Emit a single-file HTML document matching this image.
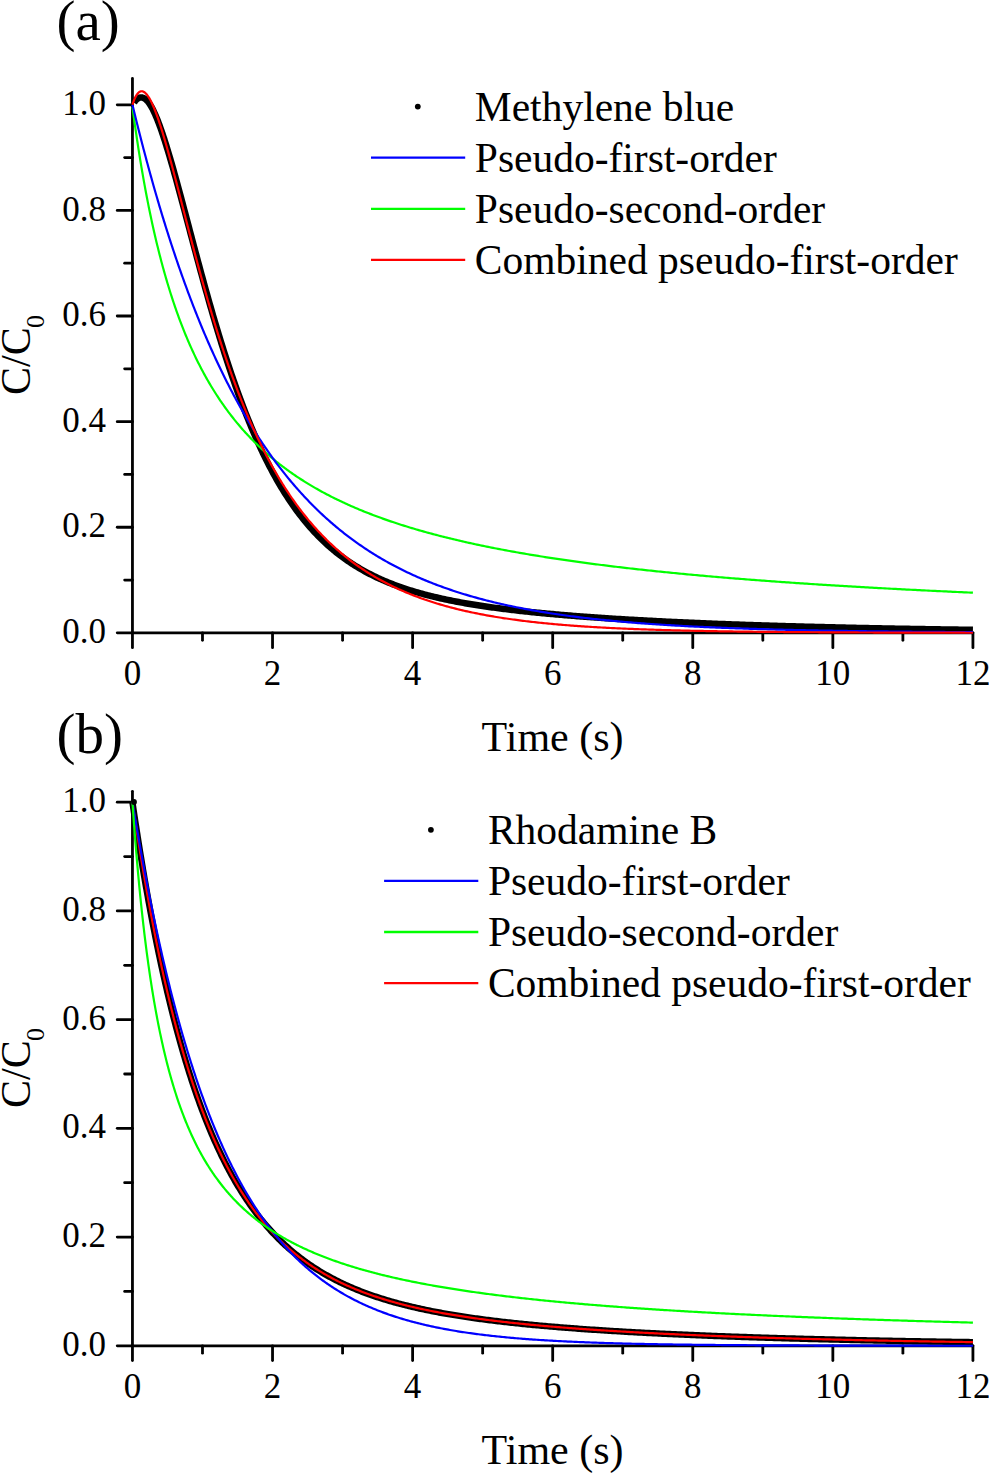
<!DOCTYPE html>
<html><head><meta charset="utf-8"><style>
html,body{margin:0;padding:0;background:#fff;}
svg{display:block;}
text{font-family:"Liberation Serif",serif;}
</style></head><body>
<svg width="989" height="1473" viewBox="0 0 989 1473">
<rect width="989" height="1473" fill="#fff"/>
<g stroke="#000" stroke-width="2.8" stroke-linecap="round">
<line x1="132.45" y1="78.40" x2="132.45" y2="632.85" />
<line x1="117.24999999999999" y1="632.85" x2="972.93" y2="632.85" />
<line x1="124.65" y1="580.05" x2="132.45" y2="580.05" />
<line x1="117.25" y1="527.24" x2="132.45" y2="527.24" />
<line x1="124.65" y1="474.44" x2="132.45" y2="474.44" />
<line x1="117.25" y1="421.63" x2="132.45" y2="421.63" />
<line x1="124.65" y1="368.83" x2="132.45" y2="368.83" />
<line x1="117.25" y1="316.02" x2="132.45" y2="316.02" />
<line x1="124.65" y1="263.22" x2="132.45" y2="263.22" />
<line x1="117.25" y1="210.41" x2="132.45" y2="210.41" />
<line x1="124.65" y1="157.61" x2="132.45" y2="157.61" />
<line x1="117.25" y1="104.80" x2="132.45" y2="104.80" />
<line x1="132.45" y1="632.85" x2="132.45" y2="647.65" />
<line x1="202.49" y1="632.85" x2="202.49" y2="640.25" />
<line x1="272.53" y1="632.85" x2="272.53" y2="647.65" />
<line x1="342.57" y1="632.85" x2="342.57" y2="640.25" />
<line x1="412.61" y1="632.85" x2="412.61" y2="647.65" />
<line x1="482.65" y1="632.85" x2="482.65" y2="640.25" />
<line x1="552.69" y1="632.85" x2="552.69" y2="647.65" />
<line x1="622.73" y1="632.85" x2="622.73" y2="640.25" />
<line x1="692.77" y1="632.85" x2="692.77" y2="647.65" />
<line x1="762.81" y1="632.85" x2="762.81" y2="640.25" />
<line x1="832.85" y1="632.85" x2="832.85" y2="647.65" />
<line x1="902.89" y1="632.85" x2="902.89" y2="640.25" />
<line x1="972.93" y1="632.85" x2="972.93" y2="647.65" />
</g>
<g fill="none" stroke-linejoin="round">
<path d="M133.99,102.72 L134.02,102.67 L134.08,102.57 L134.17,102.44 L134.27,102.29 L134.39,102.11 L134.52,101.91 L134.67,101.70 L134.83,101.47 L135.01,101.24 L135.19,100.99 L135.39,100.75 L135.60,100.50 L135.82,100.24 L136.05,99.99 L136.29,99.75 L136.54,99.50 L136.80,99.27 L137.07,99.04 L137.35,98.82 L137.63,98.61 L137.93,98.42 L138.23,98.23 L138.55,98.07 L138.87,97.92 L139.20,97.79 L139.53,97.68 L139.88,97.58 L140.23,97.51 L140.59,97.47 L140.96,97.45 L141.34,97.45 L141.72,97.48 L142.11,97.54 L142.51,97.63 L142.91,97.75 L143.32,97.90 L143.74,98.08 L144.17,98.30 L144.60,98.55 L145.04,98.85 L145.48,99.18 L145.93,99.55 L146.39,99.96 L146.85,100.42 L147.33,100.92 L147.80,101.46 L148.29,102.06 L148.78,102.70 L149.27,103.38 L149.77,104.12 L150.28,104.91 L150.80,105.74 L151.32,106.63 L151.84,107.57 L152.37,108.56 L152.91,109.60 L153.46,110.70 L154.00,111.84 L154.56,113.04 L155.12,114.29 L155.69,115.58 L156.26,116.93 L156.84,118.33 L157.42,119.78 L158.01,121.28 L158.60,122.82 L159.20,124.42 L159.81,126.06 L160.42,127.76 L161.03,129.49 L161.65,131.28 L162.28,133.11 L162.91,134.99 L163.55,136.91 L164.19,138.87 L164.83,140.88 L165.49,142.94 L166.14,145.03 L166.80,147.17 L167.47,149.35 L168.14,151.57 L168.82,153.83 L169.50,156.13 L170.19,158.47 L170.88,160.85 L171.58,163.26 L172.28,165.71 L172.99,168.20 L173.70,170.72 L174.41,173.28 L175.14,175.87 L175.86,178.49 L176.59,181.14 L177.33,183.83 L178.07,186.54 L178.81,189.29 L179.56,192.06 L180.32,194.86 L181.07,197.68 L181.84,200.53 L182.60,203.41 L183.38,206.31 L184.15,209.23 L184.94,212.17 L185.72,215.14 L186.51,218.13 L187.31,221.13 L188.11,224.15 L188.91,227.19 L189.72,230.25 L190.53,233.32 L191.35,236.41 L192.17,239.51 L193.00,242.62 L193.83,245.75 L194.66,248.88 L195.50,252.03 L196.34,255.19 L197.19,258.35 L198.04,261.52 L198.90,264.70 L199.76,267.88 L200.62,271.07 L201.49,274.27 L202.37,277.46 L203.24,280.66 L204.13,283.86 L205.01,287.06 L205.90,290.27 L206.80,293.47 L207.69,296.67 L208.60,299.86 L209.50,303.06 L210.41,306.25 L211.33,309.43 L212.25,312.61 L213.17,315.79 L214.09,318.96 L215.03,322.12 L215.96,325.27 L216.90,328.42 L217.84,331.55 L218.79,334.68 L219.74,337.80 L220.69,340.90 L221.65,344.00 L222.62,347.08 L223.58,350.15 L224.55,353.20 L225.53,356.25 L226.51,359.27 L227.49,362.29 L228.47,365.29 L229.46,368.27 L230.46,371.24 L231.46,374.19 L232.46,377.12 L233.46,380.04 L234.47,382.94 L235.48,385.82 L236.50,388.68 L237.52,391.53 L238.55,394.35 L239.57,397.16 L240.61,399.95 L241.64,402.71 L242.68,405.46 L243.73,408.18 L244.77,410.89 L245.82,413.57 L246.88,416.23 L247.94,418.87 L249.00,421.49 L250.06,424.09 L251.13,426.66 L252.20,429.22 L253.28,431.75 L254.36,434.26 L255.45,436.74 L256.53,439.20 L257.62,441.64 L258.72,444.06 L259.82,446.45 L260.92,448.82 L262.02,451.17 L263.13,453.49 L264.25,455.79 L265.36,458.07 L266.48,460.32 L267.61,462.55 L268.73,464.75 L269.86,466.94 L271.00,469.10 L272.13,471.23 L273.28,473.34 L274.42,475.43 L275.57,477.49 L276.72,479.54 L277.87,481.55 L279.03,483.55 L280.20,485.52 L281.36,487.47 L282.53,489.39 L283.70,491.29 L284.88,493.17 L286.06,495.03 L287.24,496.86 L288.43,498.67 L289.62,500.46 L290.81,502.22 L292.01,503.97 L293.21,505.69 L294.41,507.39 L295.62,509.06 L296.83,510.72 L298.04,512.35 L299.26,513.96 L300.48,515.55 L301.70,517.12 L302.93,518.67 L304.16,520.20 L305.39,521.70 L306.63,523.19 L307.87,524.66 L309.11,526.10 L310.36,527.53 L311.61,528.93 L312.86,530.32 L314.12,531.68 L315.38,533.03 L316.64,534.36 L317.91,535.67 L319.18,536.96 L320.45,538.23 L321.73,539.48 L323.01,540.72 L324.29,541.93 L325.58,543.13 L326.87,544.32 L328.16,545.48 L329.46,546.63 L330.76,547.76 L332.06,548.87 L333.37,549.97 L334.68,551.05 L335.99,552.11 L337.30,553.16 L338.62,554.19 L339.94,555.21 L341.27,556.21 L342.60,557.19 L343.93,558.17 L345.26,559.12 L346.60,560.06 L347.94,560.99 L349.28,561.90 L350.63,562.80 L351.98,563.69 L353.34,564.56 L354.69,565.41 L356.05,566.26 L357.41,567.09 L358.78,567.91 L360.15,568.71 L361.52,569.51 L362.90,570.29 L364.28,571.06 L365.66,571.81 L367.04,572.56 L368.43,573.29 L369.82,574.01 L371.21,574.72 L372.61,575.42 L374.01,576.11 L375.41,576.79 L376.82,577.46 L378.23,578.11 L379.64,578.76 L381.06,579.39 L382.48,580.02 L383.90,580.64 L385.32,581.24 L386.75,581.84 L388.18,582.43 L389.61,583.01 L391.05,583.58 L392.49,584.14 L393.93,584.69 L395.38,585.24 L396.83,585.77 L398.28,586.30 L399.73,586.82 L401.19,587.33 L402.65,587.83 L404.11,588.33 L405.58,588.82 L407.05,589.30 L408.52,589.77 L410.00,590.24 L411.48,590.70 L412.96,591.15 L414.44,591.60 L415.93,592.04 L417.42,592.47 L418.91,592.89 L420.41,593.31 L421.91,593.73 L423.41,594.13 L424.92,594.54 L426.42,594.93 L427.93,595.32 L429.45,595.70 L430.96,596.08 L432.48,596.46 L434.01,596.82 L435.53,597.19 L437.06,597.54 L438.59,597.89 L440.13,598.24 L441.66,598.58 L443.20,598.92 L444.75,599.25 L446.29,599.58 L447.84,599.91 L449.39,600.23 L450.94,600.54 L452.50,600.85 L454.06,601.16 L455.62,601.46 L457.19,601.76 L458.76,602.05 L460.33,602.34 L461.90,602.63 L463.48,602.91 L465.06,603.19 L466.64,603.46 L468.23,603.74 L469.82,604.00 L471.41,604.27 L473.00,604.53 L474.60,604.79 L476.20,605.04 L477.80,605.30 L479.41,605.55 L481.01,605.79 L482.62,606.03 L484.24,606.27 L485.85,606.51 L487.47,606.74 L489.10,606.98 L490.72,607.20 L492.35,607.43 L493.98,607.65 L495.61,607.87 L497.25,608.09 L498.89,608.31 L500.53,608.52 L502.17,608.73 L503.82,608.94 L505.47,609.15 L507.12,609.35 L508.78,609.55 L510.43,609.75 L512.09,609.95 L513.76,610.14 L515.42,610.33 L517.09,610.53 L518.76,610.71 L520.44,610.90 L522.11,611.09 L523.79,611.27 L525.48,611.45 L527.16,611.63 L528.85,611.81 L530.54,611.98 L532.23,612.16 L533.93,612.33 L535.63,612.50 L537.33,612.67 L539.03,612.83 L540.74,613.00 L542.45,613.16 L544.16,613.33 L545.88,613.49 L547.59,613.65 L549.32,613.80 L551.04,613.96 L552.76,614.11 L554.49,614.27 L556.22,614.42 L557.96,614.57 L559.69,614.72 L561.43,614.87 L563.17,615.01 L564.92,615.16 L566.66,615.30 L568.41,615.45 L570.17,615.59 L571.92,615.73 L573.68,615.87 L575.44,616.00 L577.20,616.14 L578.97,616.27 L580.73,616.41 L582.50,616.54 L584.28,616.67 L586.05,616.80 L587.83,616.93 L589.61,617.06 L591.40,617.19 L593.18,617.32 L594.97,617.44 L596.76,617.57 L598.56,617.69 L600.35,617.81 L602.15,617.93 L603.96,618.05 L605.76,618.17 L607.57,618.29 L609.38,618.41 L611.19,618.52 L613.00,618.64 L614.82,618.76 L616.64,618.87 L618.46,618.98 L620.29,619.09 L622.12,619.20 L623.95,619.31 L625.78,619.42 L627.62,619.53 L629.45,619.64 L631.29,619.75 L633.14,619.85 L634.98,619.96 L636.83,620.06 L638.68,620.17 L640.54,620.27 L642.39,620.37 L644.25,620.47 L646.11,620.57 L647.97,620.67 L649.84,620.77 L651.71,620.87 L653.58,620.97 L655.45,621.06 L657.33,621.16 L659.21,621.26 L661.09,621.35 L662.97,621.44 L664.86,621.54 L666.75,621.63 L668.64,621.72 L670.53,621.81 L672.43,621.90 L674.33,621.99 L676.23,622.08 L678.13,622.17 L680.04,622.26 L681.95,622.34 L683.86,622.43 L685.77,622.52 L687.69,622.60 L689.61,622.69 L691.53,622.77 L693.46,622.85 L695.38,622.94 L697.31,623.02 L699.24,623.10 L701.18,623.18 L703.11,623.26 L705.05,623.34 L706.99,623.42 L708.93,623.50 L710.88,623.58 L712.83,623.65 L714.78,623.73 L716.73,623.81 L718.69,623.88 L720.65,623.96 L722.61,624.03 L724.57,624.10 L726.54,624.18 L728.51,624.25 L730.48,624.32 L732.45,624.39 L734.43,624.47 L736.40,624.54 L738.38,624.61 L740.37,624.68 L742.35,624.75 L744.34,624.81 L746.33,624.88 L748.32,624.95 L750.32,625.02 L752.31,625.08 L754.31,625.15 L756.32,625.22 L758.32,625.28 L760.33,625.34 L762.34,625.41 L764.35,625.47 L766.36,625.54 L768.38,625.60 L770.40,625.66 L772.42,625.72 L774.45,625.78 L776.47,625.84 L778.50,625.90 L780.53,625.96 L782.57,626.02 L784.60,626.08 L786.64,626.14 L788.68,626.20 L790.72,626.26 L792.77,626.31 L794.82,626.37 L796.87,626.43 L798.92,626.48 L800.97,626.54 L803.03,626.59 L805.09,626.65 L807.15,626.70 L809.22,626.76 L811.29,626.81 L813.35,626.86 L815.43,626.92 L817.50,626.97 L819.58,627.02 L821.66,627.07 L823.74,627.12 L825.82,627.17 L827.91,627.22 L829.99,627.27 L832.08,627.32 L834.18,627.37 L836.27,627.42 L838.37,627.47 L840.47,627.52 L842.57,627.56 L844.68,627.61 L846.78,627.66 L848.89,627.70 L851.00,627.75 L853.12,627.79 L855.23,627.84 L857.35,627.89 L859.47,627.93 L861.60,627.97 L863.72,628.02 L865.85,628.06 L867.98,628.10 L870.11,628.15 L872.25,628.19 L874.39,628.23 L876.52,628.27 L878.67,628.32 L880.81,628.36 L882.96,628.40 L885.11,628.44 L887.26,628.48 L889.41,628.52 L891.57,628.56 L893.72,628.60 L895.88,628.64 L898.05,628.67 L900.21,628.71 L902.38,628.75 L904.55,628.79 L906.72,628.82 L908.89,628.86 L911.07,628.90 L913.25,628.94 L915.43,628.97 L917.61,629.01 L919.80,629.04 L921.99,629.08 L924.18,629.11 L926.37,629.15 L928.56,629.18 L930.76,629.22 L932.96,629.25 L935.16,629.28 L937.36,629.32 L939.57,629.35 L941.78,629.38 L943.99,629.41 L946.20,629.45 L948.42,629.48 L950.63,629.51 L952.85,629.54 L955.07,629.57 L957.30,629.60 L959.53,629.63 L961.75,629.66 L963.98,629.69 L966.22,629.72 L968.45,629.75 L970.69,629.78 L972.93,629.81" stroke="#000" stroke-width="6.5" transform="translate(0,0)"/>
<path d="M132.45,106.90 L132.48,107.13 L132.54,107.60 L132.63,108.23 L132.73,109.00 L132.85,109.89 L132.98,110.90 L133.13,112.00 L133.29,113.20 L133.47,114.49 L133.65,115.86 L133.85,117.31 L134.06,118.83 L134.28,120.41 L134.51,122.07 L134.75,123.78 L135.00,125.55 L135.26,127.38 L135.53,129.25 L135.81,131.18 L136.10,133.15 L136.40,135.17 L136.70,137.23 L137.01,139.32 L137.34,141.46 L137.67,143.63 L138.00,145.83 L138.35,148.06 L138.70,150.33 L139.06,152.62 L139.43,154.93 L139.81,157.27 L140.19,159.63 L140.58,162.01 L140.98,164.42 L141.39,166.84 L141.80,169.27 L142.22,171.72 L142.64,174.19 L143.08,176.66 L143.51,179.15 L143.96,181.65 L144.41,184.15 L144.87,186.67 L145.34,189.19 L145.81,191.72 L146.29,194.25 L146.77,196.78 L147.26,199.32 L147.76,201.86 L148.26,204.40 L148.77,206.94 L149.29,209.48 L149.81,212.02 L150.33,214.56 L150.87,217.10 L151.41,219.63 L151.95,222.16 L152.50,224.68 L153.06,227.20 L153.62,229.71 L154.19,232.22 L154.76,234.72 L155.34,237.22 L155.92,239.70 L156.51,242.18 L157.11,244.65 L157.71,247.11 L158.31,249.56 L158.92,252.00 L159.54,254.43 L160.16,256.85 L160.79,259.26 L161.42,261.66 L162.06,264.05 L162.70,266.43 L163.35,268.79 L164.00,271.15 L164.66,273.49 L165.32,275.82 L165.99,278.13 L166.67,280.43 L167.34,282.72 L168.03,285.00 L168.72,287.27 L169.41,289.52 L170.11,291.75 L170.81,293.98 L171.52,296.19 L172.23,298.38 L172.95,300.57 L173.67,302.73 L174.40,304.89 L175.13,307.03 L175.87,309.15 L176.61,311.27 L177.35,313.36 L178.10,315.45 L178.86,317.51 L179.62,319.57 L180.38,321.61 L181.15,323.63 L181.93,325.65 L182.71,327.64 L183.49,329.63 L184.28,331.59 L185.07,333.55 L185.86,335.49 L186.67,337.41 L187.47,339.32 L188.28,341.22 L189.09,343.10 L189.91,344.97 L190.74,346.83 L191.56,348.67 L192.40,350.49 L193.23,352.31 L194.07,354.10 L194.92,355.89 L195.77,357.66 L196.62,359.42 L197.48,361.16 L198.34,362.89 L199.21,364.61 L200.08,366.31 L200.95,368.00 L201.83,369.68 L202.71,371.34 L203.60,372.99 L204.49,374.63 L205.39,376.25 L206.29,377.86 L207.19,379.46 L208.10,381.04 L209.01,382.62 L209.93,384.18 L210.85,385.72 L211.77,387.26 L212.70,388.78 L213.63,390.29 L214.57,391.79 L215.51,393.28 L216.46,394.75 L217.40,396.21 L218.36,397.66 L219.31,399.10 L220.27,400.53 L221.24,401.95 L222.21,403.35 L223.18,404.74 L224.15,406.12 L225.13,407.49 L226.12,408.85 L227.11,410.20 L228.10,411.54 L229.09,412.87 L230.09,414.18 L231.10,415.49 L232.10,416.78 L233.12,418.06 L234.13,419.34 L235.15,420.60 L236.17,421.85 L237.20,423.10 L238.23,424.33 L239.26,425.55 L240.30,426.77 L241.34,427.97 L242.39,429.16 L243.43,430.35 L244.49,431.52 L245.54,432.69 L246.60,433.84 L247.67,434.99 L248.73,436.12 L249.81,437.25 L250.88,438.37 L251.96,439.48 L253.04,440.58 L254.13,441.67 L255.22,442.76 L256.31,443.83 L257.41,444.90 L258.51,445.95 L259.61,447.00 L260.72,448.04 L261.83,449.08 L262.94,450.10 L264.06,451.12 L265.18,452.13 L266.31,453.13 L267.44,454.12 L268.57,455.10 L269.71,456.08 L270.85,457.05 L271.99,458.01 L273.14,458.96 L274.29,459.91 L275.44,460.85 L276.60,461.78 L277.76,462.71 L278.92,463.62 L280.09,464.53 L281.26,465.44 L282.44,466.33 L283.61,467.22 L284.80,468.10 L285.98,468.98 L287.17,469.85 L288.36,470.71 L289.56,471.57 L290.76,472.41 L291.96,473.26 L293.16,474.09 L294.37,474.92 L295.58,475.74 L296.80,476.56 L298.02,477.37 L299.24,478.18 L300.47,478.97 L301.70,479.77 L302.93,480.55 L304.17,481.33 L305.40,482.11 L306.65,482.88 L307.89,483.64 L309.14,484.40 L310.40,485.15 L311.65,485.89 L312.91,486.63 L314.17,487.37 L315.44,488.10 L316.71,488.82 L317.98,489.54 L319.26,490.25 L320.53,490.96 L321.82,491.67 L323.10,492.36 L324.39,493.06 L325.68,493.74 L326.98,494.43 L328.28,495.10 L329.58,495.78 L330.88,496.44 L332.19,497.11 L333.50,497.76 L334.82,498.42 L336.14,499.07 L337.46,499.71 L338.78,500.35 L340.11,500.98 L341.44,501.61 L342.77,502.24 L344.11,502.86 L345.45,503.48 L346.79,504.09 L348.14,504.70 L349.49,505.30 L350.84,505.90 L352.20,506.50 L353.56,507.09 L354.92,507.67 L356.28,508.26 L357.65,508.83 L359.02,509.41 L360.40,509.98 L361.78,510.55 L363.16,511.11 L364.54,511.67 L365.93,512.22 L367.32,512.77 L368.71,513.32 L370.11,513.86 L371.51,514.40 L372.91,514.94 L374.32,515.47 L375.73,516.00 L377.14,516.53 L378.55,517.05 L379.97,517.57 L381.39,518.08 L382.82,518.59 L384.24,519.10 L385.67,519.60 L387.11,520.10 L388.54,520.60 L389.98,521.09 L391.42,521.59 L392.87,522.07 L394.32,522.56 L395.77,523.04 L397.22,523.52 L398.68,523.99 L400.14,524.46 L401.60,524.93 L403.07,525.40 L404.54,525.86 L406.01,526.32 L407.49,526.77 L408.96,527.23 L410.45,527.68 L411.93,528.12 L413.42,528.57 L414.91,529.01 L416.40,529.45 L417.90,529.88 L419.40,530.32 L420.90,530.75 L422.40,531.17 L423.91,531.60 L425.42,532.02 L426.93,532.44 L428.45,532.86 L429.97,533.27 L431.49,533.68 L433.02,534.09 L434.55,534.50 L436.08,534.90 L437.61,535.30 L439.15,535.70 L440.69,536.10 L442.23,536.49 L443.77,536.88 L445.32,537.27 L446.87,537.66 L448.43,538.04 L449.99,538.42 L451.55,538.80 L453.11,539.18 L454.67,539.55 L456.24,539.92 L457.81,540.29 L459.39,540.66 L460.97,541.03 L462.54,541.39 L464.13,541.75 L465.71,542.11 L467.30,542.47 L468.89,542.82 L470.49,543.17 L472.08,543.52 L473.68,543.87 L475.29,544.22 L476.89,544.56 L478.50,544.90 L480.11,545.24 L481.72,545.58 L483.34,545.91 L484.96,546.25 L486.58,546.58 L488.21,546.91 L489.83,547.24 L491.47,547.56 L493.10,547.89 L494.73,548.21 L496.37,548.53 L498.01,548.85 L499.66,549.16 L501.31,549.48 L502.96,549.79 L504.61,550.10 L506.26,550.41 L507.92,550.72 L509.58,551.02 L511.25,551.33 L512.91,551.63 L514.58,551.93 L516.25,552.23 L517.93,552.52 L519.61,552.82 L521.29,553.11 L522.97,553.40 L524.66,553.69 L526.34,553.98 L528.03,554.27 L529.73,554.55 L531.42,554.84 L533.12,555.12 L534.83,555.40 L536.53,555.68 L538.24,555.96 L539.95,556.23 L541.66,556.50 L543.37,556.78 L545.09,557.05 L546.81,557.32 L548.54,557.59 L550.26,557.85 L551.99,558.12 L553.72,558.38 L555.46,558.64 L557.19,558.90 L558.93,559.16 L560.68,559.42 L562.42,559.68 L564.17,559.93 L565.92,560.19 L567.67,560.44 L569.43,560.69 L571.18,560.94 L572.94,561.19 L574.71,561.44 L576.47,561.68 L578.24,561.93 L580.01,562.17 L581.79,562.41 L583.56,562.65 L585.34,562.89 L587.12,563.13 L588.91,563.36 L590.70,563.60 L592.49,563.83 L594.28,564.07 L596.07,564.30 L597.87,564.53 L599.67,564.76 L601.47,564.98 L603.28,565.21 L605.09,565.44 L606.90,565.66 L608.71,565.88 L610.52,566.11 L612.34,566.33 L614.16,566.55 L615.99,566.77 L617.81,566.98 L619.64,567.20 L621.47,567.41 L623.31,567.63 L625.14,567.84 L626.98,568.05 L628.82,568.26 L630.67,568.47 L632.51,568.68 L634.36,568.89 L636.21,569.10 L638.07,569.30 L639.93,569.51 L641.78,569.71 L643.65,569.91 L645.51,570.12 L647.38,570.32 L649.25,570.51 L651.12,570.71 L652.99,570.91 L654.87,571.11 L656.75,571.30 L658.63,571.50 L660.52,571.69 L662.40,571.88 L664.29,572.07 L666.19,572.27 L668.08,572.46 L669.98,572.64 L671.88,572.83 L673.78,573.02 L675.69,573.20 L677.59,573.39 L679.50,573.57 L681.42,573.76 L683.33,573.94 L685.25,574.12 L687.17,574.30 L689.09,574.48 L691.01,574.66 L692.94,574.84 L694.87,575.02 L696.80,575.19 L698.74,575.37 L700.68,575.54 L702.62,575.72 L704.56,575.89 L706.50,576.06 L708.45,576.23 L710.40,576.40 L712.35,576.57 L714.31,576.74 L716.26,576.91 L718.22,577.08 L720.18,577.24 L722.15,577.41 L724.12,577.57 L726.09,577.74 L728.06,577.90 L730.03,578.06 L732.01,578.23 L733.99,578.39 L735.97,578.55 L737.95,578.71 L739.94,578.87 L741.93,579.02 L743.92,579.18 L745.91,579.34 L747.91,579.49 L749.91,579.65 L751.91,579.80 L753.91,579.96 L755.92,580.11 L757.93,580.26 L759.94,580.41 L761.95,580.57 L763.97,580.72 L765.98,580.87 L768.01,581.01 L770.03,581.16 L772.05,581.31 L774.08,581.46 L776.11,581.60 L778.14,581.75 L780.18,581.89 L782.22,582.04 L784.26,582.18 L786.30,582.33 L788.34,582.47 L790.39,582.61 L792.44,582.75 L794.49,582.89 L796.54,583.03 L798.60,583.17 L800.66,583.31 L802.72,583.45 L804.78,583.58 L806.85,583.72 L808.92,583.86 L810.99,583.99 L813.06,584.13 L815.14,584.26 L817.21,584.40 L819.30,584.53 L821.38,584.66 L823.46,584.79 L825.55,584.93 L827.64,585.06 L829.73,585.19 L831.83,585.32 L833.92,585.45 L836.02,585.58 L838.12,585.70 L840.23,585.83 L842.33,585.96 L844.44,586.08 L846.55,586.21 L848.66,586.34 L850.78,586.46 L852.90,586.59 L855.02,586.71 L857.14,586.83 L859.27,586.96 L861.39,587.08 L863.52,587.20 L865.65,587.32 L867.79,587.44 L869.92,587.56 L872.06,587.68 L874.20,587.80 L876.35,587.92 L878.49,588.04 L880.64,588.16 L882.79,588.27 L884.94,588.39 L887.10,588.51 L889.26,588.62 L891.42,588.74 L893.58,588.85 L895.74,588.97 L897.91,589.08 L900.08,589.19 L902.25,589.31 L904.42,589.42 L906.60,589.53 L908.78,589.64 L910.96,589.75 L913.14,589.86 L915.32,589.97 L917.51,590.08 L919.70,590.19 L921.89,590.30 L924.09,590.41 L926.28,590.52 L928.48,590.63 L930.68,590.73 L932.89,590.84 L935.09,590.95 L937.30,591.05 L939.51,591.16 L941.72,591.26 L943.94,591.37 L946.15,591.47 L948.37,591.57 L950.59,591.68 L952.82,591.78 L955.04,591.88 L957.27,591.98 L959.50,592.09 L961.73,592.19 L963.97,592.29 L966.21,592.39 L968.44,592.49 L970.69,592.59 L972.93,592.69" stroke="#00ff00" stroke-width="2.2"/>
<path d="M132.45,104.80 L132.48,104.93 L132.54,105.18 L132.63,105.53 L132.73,105.96 L132.85,106.45 L132.98,107.01 L133.13,107.62 L133.29,108.29 L133.47,109.02 L133.65,109.79 L133.85,110.60 L134.06,111.47 L134.28,112.37 L134.51,113.32 L134.75,114.30 L135.00,115.32 L135.26,116.38 L135.53,117.48 L135.81,118.61 L136.10,119.77 L136.40,120.97 L136.70,122.20 L137.01,123.46 L137.34,124.75 L137.67,126.07 L138.00,127.42 L138.35,128.79 L138.70,130.19 L139.06,131.62 L139.43,133.08 L139.81,134.55 L140.19,136.06 L140.58,137.59 L140.98,139.14 L141.39,140.71 L141.80,142.31 L142.22,143.92 L142.64,145.56 L143.08,147.22 L143.51,148.90 L143.96,150.59 L144.41,152.31 L144.87,154.05 L145.34,155.80 L145.81,157.57 L146.29,159.36 L146.77,161.16 L147.26,162.98 L147.76,164.82 L148.26,166.67 L148.77,168.54 L149.29,170.42 L149.81,172.31 L150.33,174.22 L150.87,176.14 L151.41,178.08 L151.95,180.03 L152.50,181.99 L153.06,183.96 L153.62,185.94 L154.19,187.93 L154.76,189.94 L155.34,191.95 L155.92,193.98 L156.51,196.01 L157.11,198.05 L157.71,200.11 L158.31,202.17 L158.92,204.24 L159.54,206.32 L160.16,208.40 L160.79,210.49 L161.42,212.59 L162.06,214.70 L162.70,216.81 L163.35,218.93 L164.00,221.06 L164.66,223.19 L165.32,225.32 L165.99,227.46 L166.67,229.61 L167.34,231.76 L168.03,233.91 L168.72,236.07 L169.41,238.23 L170.11,240.40 L170.81,242.57 L171.52,244.74 L172.23,246.91 L172.95,249.09 L173.67,251.27 L174.40,253.45 L175.13,255.63 L175.87,257.81 L176.61,260.00 L177.35,262.19 L178.10,264.37 L178.86,266.56 L179.62,268.75 L180.38,270.93 L181.15,273.12 L181.93,275.31 L182.71,277.50 L183.49,279.68 L184.28,281.87 L185.07,284.05 L185.86,286.23 L186.67,288.41 L187.47,290.59 L188.28,292.77 L189.09,294.95 L189.91,297.12 L190.74,299.29 L191.56,301.46 L192.40,303.62 L193.23,305.79 L194.07,307.95 L194.92,310.10 L195.77,312.26 L196.62,314.40 L197.48,316.55 L198.34,318.69 L199.21,320.83 L200.08,322.96 L200.95,325.09 L201.83,327.22 L202.71,329.34 L203.60,331.45 L204.49,333.56 L205.39,335.67 L206.29,337.77 L207.19,339.86 L208.10,341.95 L209.01,344.03 L209.93,346.11 L210.85,348.18 L211.77,350.25 L212.70,352.31 L213.63,354.36 L214.57,356.41 L215.51,358.45 L216.46,360.49 L217.40,362.52 L218.36,364.54 L219.31,366.55 L220.27,368.56 L221.24,370.56 L222.21,372.56 L223.18,374.54 L224.15,376.52 L225.13,378.50 L226.12,380.46 L227.11,382.42 L228.10,384.37 L229.09,386.31 L230.09,388.25 L231.10,390.17 L232.10,392.09 L233.12,394.00 L234.13,395.91 L235.15,397.80 L236.17,399.69 L237.20,401.56 L238.23,403.43 L239.26,405.30 L240.30,407.15 L241.34,408.99 L242.39,410.83 L243.43,412.66 L244.49,414.48 L245.54,416.29 L246.60,418.09 L247.67,419.88 L248.73,421.67 L249.81,423.44 L250.88,425.21 L251.96,426.97 L253.04,428.71 L254.13,430.45 L255.22,432.18 L256.31,433.91 L257.41,435.62 L258.51,437.32 L259.61,439.01 L260.72,440.70 L261.83,442.37 L262.94,444.04 L264.06,445.70 L265.18,447.34 L266.31,448.98 L267.44,450.61 L268.57,452.23 L269.71,453.84 L270.85,455.44 L271.99,457.03 L273.14,458.61 L274.29,460.19 L275.44,461.75 L276.60,463.30 L277.76,464.85 L278.92,466.38 L280.09,467.91 L281.26,469.42 L282.44,470.93 L283.61,472.42 L284.80,473.91 L285.98,475.39 L287.17,476.86 L288.36,478.32 L289.56,479.76 L290.76,481.20 L291.96,482.63 L293.16,484.05 L294.37,485.47 L295.58,486.87 L296.80,488.26 L298.02,489.64 L299.24,491.01 L300.47,492.38 L301.70,493.73 L302.93,495.08 L304.17,496.41 L305.40,497.74 L306.65,499.06 L307.89,500.36 L309.14,501.66 L310.40,502.95 L311.65,504.23 L312.91,505.50 L314.17,506.76 L315.44,508.01 L316.71,509.25 L317.98,510.49 L319.26,511.71 L320.53,512.93 L321.82,514.13 L323.10,515.33 L324.39,516.52 L325.68,517.69 L326.98,518.86 L328.28,520.02 L329.58,521.18 L330.88,522.32 L332.19,523.45 L333.50,524.58 L334.82,525.69 L336.14,526.80 L337.46,527.90 L338.78,528.99 L340.11,530.07 L341.44,531.14 L342.77,532.21 L344.11,533.26 L345.45,534.31 L346.79,535.34 L348.14,536.37 L349.49,537.39 L350.84,538.41 L352.20,539.41 L353.56,540.41 L354.92,541.39 L356.28,542.37 L357.65,543.34 L359.02,544.31 L360.40,545.26 L361.78,546.21 L363.16,547.14 L364.54,548.07 L365.93,548.99 L367.32,549.91 L368.71,550.81 L370.11,551.71 L371.51,552.60 L372.91,553.48 L374.32,554.36 L375.73,555.23 L377.14,556.08 L378.55,556.94 L379.97,557.78 L381.39,558.62 L382.82,559.44 L384.24,560.26 L385.67,561.08 L387.11,561.88 L388.54,562.68 L389.98,563.47 L391.42,564.26 L392.87,565.04 L394.32,565.81 L395.77,566.57 L397.22,567.32 L398.68,568.07 L400.14,568.81 L401.60,569.55 L403.07,570.27 L404.54,570.99 L406.01,571.71 L407.49,572.41 L408.96,573.11 L410.45,573.81 L411.93,574.49 L413.42,575.17 L414.91,575.85 L416.40,576.51 L417.90,577.18 L419.40,577.83 L420.90,578.48 L422.40,579.12 L423.91,579.75 L425.42,580.38 L426.93,581.00 L428.45,581.62 L429.97,582.23 L431.49,582.83 L433.02,583.43 L434.55,584.02 L436.08,584.61 L437.61,585.19 L439.15,585.76 L440.69,586.33 L442.23,586.89 L443.77,587.45 L445.32,588.00 L446.87,588.54 L448.43,589.08 L449.99,589.62 L451.55,590.14 L453.11,590.67 L454.67,591.18 L456.24,591.70 L457.81,592.20 L459.39,592.70 L460.97,593.20 L462.54,593.69 L464.13,594.18 L465.71,594.66 L467.30,595.13 L468.89,595.60 L470.49,596.07 L472.08,596.53 L473.68,596.98 L475.29,597.43 L476.89,597.88 L478.50,598.32 L480.11,598.75 L481.72,599.18 L483.34,599.61 L484.96,600.03 L486.58,600.45 L488.21,600.86 L489.83,601.27 L491.47,601.67 L493.10,602.07 L494.73,602.46 L496.37,602.85 L498.01,603.24 L499.66,603.62 L501.31,604.00 L502.96,604.37 L504.61,604.74 L506.26,605.10 L507.92,605.46 L509.58,605.82 L511.25,606.17 L512.91,606.52 L514.58,606.86 L516.25,607.21 L517.93,607.54 L519.61,607.87 L521.29,608.20 L522.97,608.53 L524.66,608.85 L526.34,609.17 L528.03,609.48 L529.73,609.79 L531.42,610.09 L533.12,610.40 L534.83,610.70 L536.53,610.99 L538.24,611.28 L539.95,611.57 L541.66,611.86 L543.37,612.14 L545.09,612.42 L546.81,612.69 L548.54,612.97 L550.26,613.23 L551.99,613.50 L553.72,613.76 L555.46,614.02 L557.19,614.28 L558.93,614.53 L560.68,614.78 L562.42,615.03 L564.17,615.27 L565.92,615.51 L567.67,615.75 L569.43,615.98 L571.18,616.22 L572.94,616.45 L574.71,616.67 L576.47,616.90 L578.24,617.12 L580.01,617.33 L581.79,617.55 L583.56,617.76 L585.34,617.97 L587.12,618.18 L588.91,618.38 L590.70,618.59 L592.49,618.79 L594.28,618.98 L596.07,619.18 L597.87,619.37 L599.67,619.56 L601.47,619.75 L603.28,619.93 L605.09,620.12 L606.90,620.30 L608.71,620.47 L610.52,620.65 L612.34,620.82 L614.16,621.00 L615.99,621.16 L617.81,621.33 L619.64,621.50 L621.47,621.66 L623.31,621.82 L625.14,621.98 L626.98,622.13 L628.82,622.29 L630.67,622.44 L632.51,622.59 L634.36,622.74 L636.21,622.89 L638.07,623.03 L639.93,623.17 L641.78,623.31 L643.65,623.45 L645.51,623.59 L647.38,623.73 L649.25,623.86 L651.12,623.99 L652.99,624.12 L654.87,624.25 L656.75,624.38 L658.63,624.50 L660.52,624.62 L662.40,624.74 L664.29,624.86 L666.19,624.98 L668.08,625.10 L669.98,625.21 L671.88,625.33 L673.78,625.44 L675.69,625.55 L677.59,625.66 L679.50,625.77 L681.42,625.87 L683.33,625.98 L685.25,626.08 L687.17,626.18 L689.09,626.28 L691.01,626.38 L692.94,626.48 L694.87,626.57 L696.80,626.67 L698.74,626.76 L700.68,626.86 L702.62,626.95 L704.56,627.04 L706.50,627.12 L708.45,627.21 L710.40,627.30 L712.35,627.38 L714.31,627.47 L716.26,627.55 L718.22,627.63 L720.18,627.71 L722.15,627.79 L724.12,627.87 L726.09,627.94 L728.06,628.02 L730.03,628.09 L732.01,628.17 L733.99,628.24 L735.97,628.31 L737.95,628.38 L739.94,628.45 L741.93,628.52 L743.92,628.59 L745.91,628.65 L747.91,628.72 L749.91,628.78 L751.91,628.85 L753.91,628.91 L755.92,628.97 L757.93,629.03 L759.94,629.09 L761.95,629.15 L763.97,629.21 L765.98,629.27 L768.01,629.32 L770.03,629.38 L772.05,629.43 L774.08,629.49 L776.11,629.54 L778.14,629.59 L780.18,629.65 L782.22,629.70 L784.26,629.75 L786.30,629.80 L788.34,629.85 L790.39,629.89 L792.44,629.94 L794.49,629.99 L796.54,630.03 L798.60,630.08 L800.66,630.12 L802.72,630.17 L804.78,630.21 L806.85,630.25 L808.92,630.30 L810.99,630.34 L813.06,630.38 L815.14,630.42 L817.21,630.46 L819.30,630.50 L821.38,630.53 L823.46,630.57 L825.55,630.61 L827.64,630.65 L829.73,630.68 L831.83,630.72 L833.92,630.75 L836.02,630.79 L838.12,630.82 L840.23,630.85 L842.33,630.89 L844.44,630.92 L846.55,630.95 L848.66,630.98 L850.78,631.01 L852.90,631.04 L855.02,631.07 L857.14,631.10 L859.27,631.13 L861.39,631.16 L863.52,631.19 L865.65,631.22 L867.79,631.24 L869.92,631.27 L872.06,631.30 L874.20,631.32 L876.35,631.35 L878.49,631.37 L880.64,631.40 L882.79,631.42 L884.94,631.45 L887.10,631.47 L889.26,631.49 L891.42,631.52 L893.58,631.54 L895.74,631.56 L897.91,631.58 L900.08,631.60 L902.25,631.63 L904.42,631.65 L906.60,631.67 L908.78,631.69 L910.96,631.71 L913.14,631.73 L915.32,631.75 L917.51,631.76 L919.70,631.78 L921.89,631.80 L924.09,631.82 L926.28,631.84 L928.48,631.85 L930.68,631.87 L932.89,631.89 L935.09,631.91 L937.30,631.92 L939.51,631.94 L941.72,631.95 L943.94,631.97 L946.15,631.98 L948.37,632.00 L950.59,632.01 L952.82,632.03 L955.04,632.04 L957.27,632.06 L959.50,632.07 L961.73,632.08 L963.97,632.10 L966.21,632.11 L968.44,632.12 L970.69,632.14 L972.93,632.15" stroke="#0000ff" stroke-width="2.2"/>
<path d="M132.45,104.80 L132.48,104.70 L132.54,104.51 L132.63,104.25 L132.73,103.93 L132.85,103.56 L132.98,103.16 L133.13,102.73 L133.29,102.26 L133.47,101.77 L133.65,101.26 L133.85,100.74 L134.06,100.20 L134.28,99.65 L134.51,99.10 L134.75,98.55 L135.00,98.00 L135.26,97.45 L135.53,96.91 L135.81,96.38 L136.10,95.87 L136.40,95.36 L136.70,94.88 L137.01,94.42 L137.34,93.98 L137.67,93.57 L138.00,93.18 L138.35,92.82 L138.70,92.50 L139.06,92.21 L139.43,91.95 L139.81,91.73 L140.19,91.56 L140.58,91.42 L140.98,91.32 L141.39,91.27 L141.80,91.27 L142.22,91.31 L142.64,91.40 L143.08,91.53 L143.51,91.72 L143.96,91.96 L144.41,92.25 L144.87,92.59 L145.34,92.99 L145.81,93.44 L146.29,93.95 L146.77,94.51 L147.26,95.13 L147.76,95.81 L148.26,96.54 L148.77,97.33 L149.29,98.17 L149.81,99.08 L150.33,100.04 L150.87,101.05 L151.41,102.13 L151.95,103.26 L152.50,104.45 L153.06,105.70 L153.62,107.00 L154.19,108.36 L154.76,109.78 L155.34,111.25 L155.92,112.78 L156.51,114.36 L157.11,116.00 L157.71,117.69 L158.31,119.43 L158.92,121.22 L159.54,123.07 L160.16,124.97 L160.79,126.91 L161.42,128.91 L162.06,130.95 L162.70,133.05 L163.35,135.19 L164.00,137.37 L164.66,139.60 L165.32,141.87 L165.99,144.19 L166.67,146.55 L167.34,148.95 L168.03,151.39 L168.72,153.87 L169.41,156.38 L170.11,158.94 L170.81,161.53 L171.52,164.15 L172.23,166.81 L172.95,169.50 L173.67,172.22 L174.40,174.97 L175.13,177.75 L175.87,180.56 L176.61,183.40 L177.35,186.26 L178.10,189.15 L178.86,192.06 L179.62,194.99 L180.38,197.95 L181.15,200.93 L181.93,203.92 L182.71,206.94 L183.49,209.97 L184.28,213.02 L185.07,216.08 L185.86,219.16 L186.67,222.26 L187.47,225.36 L188.28,228.48 L189.09,231.60 L189.91,234.74 L190.74,237.88 L191.56,241.03 L192.40,244.19 L193.23,247.36 L194.07,250.52 L194.92,253.70 L195.77,256.87 L196.62,260.05 L197.48,263.23 L198.34,266.41 L199.21,269.59 L200.08,272.77 L200.95,275.95 L201.83,279.13 L202.71,282.30 L203.60,285.47 L204.49,288.63 L205.39,291.79 L206.29,294.94 L207.19,298.09 L208.10,301.23 L209.01,304.36 L209.93,307.48 L210.85,310.59 L211.77,313.70 L212.70,316.79 L213.63,319.88 L214.57,322.95 L215.51,326.01 L216.46,329.06 L217.40,332.10 L218.36,335.12 L219.31,338.13 L220.27,341.13 L221.24,344.11 L222.21,347.08 L223.18,350.03 L224.15,352.97 L225.13,355.89 L226.12,358.79 L227.11,361.68 L228.10,364.56 L229.09,367.41 L230.09,370.25 L231.10,373.07 L232.10,375.88 L233.12,378.66 L234.13,381.43 L235.15,384.18 L236.17,386.91 L237.20,389.62 L238.23,392.32 L239.26,394.99 L240.30,397.65 L241.34,400.28 L242.39,402.90 L243.43,405.50 L244.49,408.08 L245.54,410.63 L246.60,413.17 L247.67,415.69 L248.73,418.19 L249.81,420.67 L250.88,423.12 L251.96,425.56 L253.04,427.98 L254.13,430.38 L255.22,432.75 L256.31,435.11 L257.41,437.45 L258.51,439.76 L259.61,442.06 L260.72,444.33 L261.83,446.59 L262.94,448.82 L264.06,451.04 L265.18,453.23 L266.31,455.40 L267.44,457.56 L268.57,459.69 L269.71,461.81 L270.85,463.90 L271.99,465.97 L273.14,468.03 L274.29,470.06 L275.44,472.08 L276.60,474.07 L277.76,476.05 L278.92,478.00 L280.09,479.94 L281.26,481.85 L282.44,483.75 L283.61,485.63 L284.80,487.49 L285.98,489.33 L287.17,491.15 L288.36,492.95 L289.56,494.74 L290.76,496.50 L291.96,498.25 L293.16,499.98 L294.37,501.69 L295.58,503.38 L296.80,505.06 L298.02,506.72 L299.24,508.35 L300.47,509.98 L301.70,511.58 L302.93,513.17 L304.17,514.73 L305.40,516.29 L306.65,517.82 L307.89,519.34 L309.14,520.84 L310.40,522.33 L311.65,523.79 L312.91,525.25 L314.17,526.68 L315.44,528.10 L316.71,529.50 L317.98,530.89 L319.26,532.26 L320.53,533.62 L321.82,534.96 L323.10,536.29 L324.39,537.60 L325.68,538.89 L326.98,540.17 L328.28,541.44 L329.58,542.69 L330.88,543.92 L332.19,545.14 L333.50,546.35 L334.82,547.54 L336.14,548.72 L337.46,549.89 L338.78,551.04 L340.11,552.18 L341.44,553.30 L342.77,554.41 L344.11,555.51 L345.45,556.59 L346.79,557.66 L348.14,558.72 L349.49,559.76 L350.84,560.80 L352.20,561.81 L353.56,562.82 L354.92,563.82 L356.28,564.80 L357.65,565.77 L359.02,566.73 L360.40,567.68 L361.78,568.61 L363.16,569.53 L364.54,570.44 L365.93,571.35 L367.32,572.23 L368.71,573.11 L370.11,573.98 L371.51,574.83 L372.91,575.68 L374.32,576.51 L375.73,577.34 L377.14,578.15 L378.55,578.95 L379.97,579.75 L381.39,580.53 L382.82,581.30 L384.24,582.06 L385.67,582.82 L387.11,583.56 L388.54,584.29 L389.98,585.01 L391.42,585.73 L392.87,586.43 L394.32,587.13 L395.77,587.82 L397.22,588.49 L398.68,589.16 L400.14,589.82 L401.60,590.47 L403.07,591.11 L404.54,591.75 L406.01,592.37 L407.49,592.99 L408.96,593.60 L410.45,594.20 L411.93,594.79 L413.42,595.37 L414.91,595.95 L416.40,596.52 L417.90,597.08 L419.40,597.63 L420.90,598.18 L422.40,598.71 L423.91,599.24 L425.42,599.77 L426.93,600.28 L428.45,600.79 L429.97,601.29 L431.49,601.79 L433.02,602.28 L434.55,602.76 L436.08,603.23 L437.61,603.70 L439.15,604.16 L440.69,604.61 L442.23,605.06 L443.77,605.50 L445.32,605.94 L446.87,606.37 L448.43,606.79 L449.99,607.21 L451.55,607.62 L453.11,608.03 L454.67,608.43 L456.24,608.82 L457.81,609.21 L459.39,609.59 L460.97,609.97 L462.54,610.34 L464.13,610.71 L465.71,611.07 L467.30,611.42 L468.89,611.77 L470.49,612.12 L472.08,612.46 L473.68,612.79 L475.29,613.12 L476.89,613.45 L478.50,613.77 L480.11,614.08 L481.72,614.39 L483.34,614.70 L484.96,615.00 L486.58,615.30 L488.21,615.59 L489.83,615.88 L491.47,616.16 L493.10,616.44 L494.73,616.72 L496.37,616.99 L498.01,617.26 L499.66,617.52 L501.31,617.78 L502.96,618.04 L504.61,618.29 L506.26,618.53 L507.92,618.78 L509.58,619.02 L511.25,619.25 L512.91,619.49 L514.58,619.71 L516.25,619.94 L517.93,620.16 L519.61,620.38 L521.29,620.59 L522.97,620.81 L524.66,621.01 L526.34,621.22 L528.03,621.42 L529.73,621.62 L531.42,621.81 L533.12,622.01 L534.83,622.20 L536.53,622.38 L538.24,622.56 L539.95,622.75 L541.66,622.92 L543.37,623.10 L545.09,623.27 L546.81,623.44 L548.54,623.60 L550.26,623.77 L551.99,623.93 L553.72,624.09 L555.46,624.24 L557.19,624.40 L558.93,624.55 L560.68,624.69 L562.42,624.84 L564.17,624.98 L565.92,625.12 L567.67,625.26 L569.43,625.40 L571.18,625.53 L572.94,625.67 L574.71,625.80 L576.47,625.92 L578.24,626.05 L580.01,626.17 L581.79,626.29 L583.56,626.41 L585.34,626.53 L587.12,626.65 L588.91,626.76 L590.70,626.87 L592.49,626.98 L594.28,627.09 L596.07,627.19 L597.87,627.30 L599.67,627.40 L601.47,627.50 L603.28,627.60 L605.09,627.70 L606.90,627.79 L608.71,627.89 L610.52,627.98 L612.34,628.07 L614.16,628.16 L615.99,628.25 L617.81,628.33 L619.64,628.42 L621.47,628.50 L623.31,628.58 L625.14,628.66 L626.98,628.74 L628.82,628.82 L630.67,628.89 L632.51,628.97 L634.36,629.04 L636.21,629.11 L638.07,629.19 L639.93,629.26 L641.78,629.32 L643.65,629.39 L645.51,629.46 L647.38,629.52 L649.25,629.59 L651.12,629.65 L652.99,629.71 L654.87,629.77 L656.75,629.83 L658.63,629.89 L660.52,629.94 L662.40,630.00 L664.29,630.06 L666.19,630.11 L668.08,630.16 L669.98,630.21 L671.88,630.27 L673.78,630.32 L675.69,630.37 L677.59,630.41 L679.50,630.46 L681.42,630.51 L683.33,630.55 L685.25,630.60 L687.17,630.64 L689.09,630.69 L691.01,630.73 L692.94,630.77 L694.87,630.81 L696.80,630.85 L698.74,630.89 L700.68,630.93 L702.62,630.97 L704.56,631.01 L706.50,631.04 L708.45,631.08 L710.40,631.11 L712.35,631.15 L714.31,631.18 L716.26,631.22 L718.22,631.25 L720.18,631.28 L722.15,631.31 L724.12,631.34 L726.09,631.37 L728.06,631.40 L730.03,631.43 L732.01,631.46 L733.99,631.49 L735.97,631.52 L737.95,631.54 L739.94,631.57 L741.93,631.60 L743.92,631.62 L745.91,631.65 L747.91,631.67 L749.91,631.70 L751.91,631.72 L753.91,631.74 L755.92,631.77 L757.93,631.79 L759.94,631.81 L761.95,631.83 L763.97,631.85 L765.98,631.87 L768.01,631.89 L770.03,631.91 L772.05,631.93 L774.08,631.95 L776.11,631.97 L778.14,631.99 L780.18,632.01 L782.22,632.02 L784.26,632.04 L786.30,632.06 L788.34,632.07 L790.39,632.09 L792.44,632.11 L794.49,632.12 L796.54,632.14 L798.60,632.15 L800.66,632.17 L802.72,632.18 L804.78,632.20 L806.85,632.21 L808.92,632.22 L810.99,632.24 L813.06,632.25 L815.14,632.26 L817.21,632.27 L819.30,632.29 L821.38,632.30 L823.46,632.31 L825.55,632.32 L827.64,632.33 L829.73,632.34 L831.83,632.36 L833.92,632.37 L836.02,632.38 L838.12,632.39 L840.23,632.40 L842.33,632.41 L844.44,632.42 L846.55,632.43 L848.66,632.43 L850.78,632.44 L852.90,632.45 L855.02,632.46 L857.14,632.47 L859.27,632.48 L861.39,632.49 L863.52,632.49 L865.65,632.50 L867.79,632.51 L869.92,632.52 L872.06,632.52 L874.20,632.53 L876.35,632.54 L878.49,632.54 L880.64,632.55 L882.79,632.56 L884.94,632.56 L887.10,632.57 L889.26,632.58 L891.42,632.58 L893.58,632.59 L895.74,632.59 L897.91,632.60 L900.08,632.61 L902.25,632.61 L904.42,632.62 L906.60,632.62 L908.78,632.63 L910.96,632.63 L913.14,632.64 L915.32,632.64 L917.51,632.65 L919.70,632.65 L921.89,632.65 L924.09,632.66 L926.28,632.66 L928.48,632.67 L930.68,632.67 L932.89,632.68 L935.09,632.68 L937.30,632.68 L939.51,632.69 L941.72,632.69 L943.94,632.69 L946.15,632.70 L948.37,632.70 L950.59,632.71 L952.82,632.71 L955.04,632.71 L957.27,632.71 L959.50,632.72 L961.73,632.72 L963.97,632.72 L966.21,632.73 L968.44,632.73 L970.69,632.73 L972.93,632.73" stroke="#ff0000" stroke-width="2.2"/>
</g>
<g font-family="Liberation Serif" fill="#000">
<text x="106.0" y="642.95" text-anchor="end" font-size="35">0.0</text>
<text x="106.0" y="537.34" text-anchor="end" font-size="35">0.2</text>
<text x="106.0" y="431.73" text-anchor="end" font-size="35">0.4</text>
<text x="106.0" y="326.12" text-anchor="end" font-size="35">0.6</text>
<text x="106.0" y="220.51" text-anchor="end" font-size="35">0.8</text>
<text x="106.0" y="114.90" text-anchor="end" font-size="35">1.0</text>
<text x="132.45" y="685.25" text-anchor="middle" font-size="35">0</text>
<text x="272.53" y="685.25" text-anchor="middle" font-size="35">2</text>
<text x="412.61" y="685.25" text-anchor="middle" font-size="35">4</text>
<text x="552.69" y="685.25" text-anchor="middle" font-size="35">6</text>
<text x="692.77" y="685.25" text-anchor="middle" font-size="35">8</text>
<text x="832.85" y="685.25" text-anchor="middle" font-size="35">10</text>
<text x="972.93" y="685.25" text-anchor="middle" font-size="35">12</text>
<text x="552.6" y="750.70" text-anchor="middle" font-size="42">Time (s)</text>
<text transform="translate(29.9,355.00) rotate(-90)" text-anchor="middle" font-size="42">C/C<tspan font-size="26" dx="-0.9" dy="14">0</tspan></text>
<text x="56.6" y="40.00" font-size="57">(a)</text>
<circle cx="417.80" cy="106.60" r="2.9" fill="#000"/>
<text x="474.80" y="120.50" font-size="41.5">Methylene blue</text>
<line x1="371.0" y1="157.70" x2="465.20" y2="157.70" stroke="#0000ff" stroke-width="2.3"/>
<text x="474.80" y="171.60" font-size="41.5">Pseudo-first-order</text>
<line x1="371.0" y1="208.80" x2="465.20" y2="208.80" stroke="#00ff00" stroke-width="2.3"/>
<text x="474.80" y="222.70" font-size="41.5">Pseudo-second-order</text>
<line x1="371.0" y1="259.90" x2="465.20" y2="259.90" stroke="#ff0000" stroke-width="2.3"/>
<text x="474.80" y="273.80" font-size="41.5">Combined pseudo-first-order</text>
</g>
<g stroke="#000" stroke-width="2.8" stroke-linecap="round">
<line x1="132.45" y1="791.33" x2="132.45" y2="1345.8" />
<line x1="117.24999999999999" y1="1345.8" x2="972.93" y2="1345.8" />
<line x1="124.65" y1="1291.44" x2="132.45" y2="1291.44" />
<line x1="117.25" y1="1237.08" x2="132.45" y2="1237.08" />
<line x1="124.65" y1="1182.72" x2="132.45" y2="1182.72" />
<line x1="117.25" y1="1128.36" x2="132.45" y2="1128.36" />
<line x1="124.65" y1="1074.00" x2="132.45" y2="1074.00" />
<line x1="117.25" y1="1019.64" x2="132.45" y2="1019.64" />
<line x1="124.65" y1="965.28" x2="132.45" y2="965.28" />
<line x1="117.25" y1="910.92" x2="132.45" y2="910.92" />
<line x1="124.65" y1="856.56" x2="132.45" y2="856.56" />
<line x1="117.25" y1="802.20" x2="132.45" y2="802.20" />
<line x1="132.45" y1="1345.8" x2="132.45" y2="1360.60" />
<line x1="202.49" y1="1345.8" x2="202.49" y2="1353.20" />
<line x1="272.53" y1="1345.8" x2="272.53" y2="1360.60" />
<line x1="342.57" y1="1345.8" x2="342.57" y2="1353.20" />
<line x1="412.61" y1="1345.8" x2="412.61" y2="1360.60" />
<line x1="482.65" y1="1345.8" x2="482.65" y2="1353.20" />
<line x1="552.69" y1="1345.8" x2="552.69" y2="1360.60" />
<line x1="622.73" y1="1345.8" x2="622.73" y2="1353.20" />
<line x1="692.77" y1="1345.8" x2="692.77" y2="1360.60" />
<line x1="762.81" y1="1345.8" x2="762.81" y2="1353.20" />
<line x1="832.85" y1="1345.8" x2="832.85" y2="1360.60" />
<line x1="902.89" y1="1345.8" x2="902.89" y2="1353.20" />
<line x1="972.93" y1="1345.8" x2="972.93" y2="1360.60" />
</g>
<g fill="none" stroke-linejoin="round">
<path d="M132.45,802.20 L132.48,802.41 L132.54,802.83 L132.63,803.40 L132.73,804.10 L132.85,804.91 L132.98,805.83 L133.13,806.84 L133.29,807.94 L133.47,809.12 L133.65,810.38 L133.85,811.72 L134.06,813.13 L134.28,814.60 L134.51,816.14 L134.75,817.74 L135.00,819.40 L135.26,821.12 L135.53,822.89 L135.81,824.72 L136.10,826.60 L136.40,828.52 L136.70,830.50 L137.01,832.52 L137.34,834.59 L137.67,836.69 L138.00,838.84 L138.35,841.03 L138.70,843.26 L139.06,845.53 L139.43,847.83 L139.81,850.16 L140.19,852.53 L140.58,854.93 L140.98,857.36 L141.39,859.82 L141.80,862.31 L142.22,864.83 L142.64,867.37 L143.08,869.94 L143.51,872.53 L143.96,875.15 L144.41,877.79 L144.87,880.45 L145.34,883.13 L145.81,885.83 L146.29,888.54 L146.77,891.28 L147.26,894.03 L147.76,896.80 L148.26,899.58 L148.77,902.38 L149.29,905.19 L149.81,908.01 L150.33,910.84 L150.87,913.69 L151.41,916.54 L151.95,919.41 L152.50,922.28 L153.06,925.16 L153.62,928.05 L154.19,930.95 L154.76,933.85 L155.34,936.75 L155.92,939.66 L156.51,942.58 L157.11,945.50 L157.71,948.42 L158.31,951.34 L158.92,954.26 L159.54,957.19 L160.16,960.12 L160.79,963.04 L161.42,965.97 L162.06,968.89 L162.70,971.81 L163.35,974.73 L164.00,977.65 L164.66,980.56 L165.32,983.47 L165.99,986.37 L166.67,989.27 L167.34,992.17 L168.03,995.06 L168.72,997.94 L169.41,1000.82 L170.11,1003.69 L170.81,1006.55 L171.52,1009.41 L172.23,1012.26 L172.95,1015.10 L173.67,1017.93 L174.40,1020.75 L175.13,1023.56 L175.87,1026.36 L176.61,1029.15 L177.35,1031.93 L178.10,1034.70 L178.86,1037.46 L179.62,1040.21 L180.38,1042.95 L181.15,1045.67 L181.93,1048.39 L182.71,1051.09 L183.49,1053.77 L184.28,1056.45 L185.07,1059.11 L185.86,1061.76 L186.67,1064.39 L187.47,1067.01 L188.28,1069.62 L189.09,1072.21 L189.91,1074.79 L190.74,1077.35 L191.56,1079.90 L192.40,1082.44 L193.23,1084.96 L194.07,1087.46 L194.92,1089.95 L195.77,1092.42 L196.62,1094.88 L197.48,1097.32 L198.34,1099.75 L199.21,1102.16 L200.08,1104.55 L200.95,1106.93 L201.83,1109.29 L202.71,1111.64 L203.60,1113.96 L204.49,1116.28 L205.39,1118.57 L206.29,1120.85 L207.19,1123.11 L208.10,1125.36 L209.01,1127.58 L209.93,1129.80 L210.85,1131.99 L211.77,1134.17 L212.70,1136.33 L213.63,1138.47 L214.57,1140.60 L215.51,1142.71 L216.46,1144.80 L217.40,1146.87 L218.36,1148.93 L219.31,1150.97 L220.27,1152.99 L221.24,1155.00 L222.21,1156.99 L223.18,1158.96 L224.15,1160.92 L225.13,1162.85 L226.12,1164.77 L227.11,1166.68 L228.10,1168.56 L229.09,1170.43 L230.09,1172.29 L231.10,1174.12 L232.10,1175.94 L233.12,1177.74 L234.13,1179.53 L235.15,1181.30 L236.17,1183.05 L237.20,1184.78 L238.23,1186.50 L239.26,1188.21 L240.30,1189.89 L241.34,1191.56 L242.39,1193.21 L243.43,1194.85 L244.49,1196.47 L245.54,1198.07 L246.60,1199.66 L247.67,1201.24 L248.73,1202.79 L249.81,1204.33 L250.88,1205.86 L251.96,1207.37 L253.04,1208.86 L254.13,1210.34 L255.22,1211.80 L256.31,1213.25 L257.41,1214.69 L258.51,1216.10 L259.61,1217.51 L260.72,1218.89 L261.83,1220.27 L262.94,1221.63 L264.06,1222.97 L265.18,1224.30 L266.31,1225.61 L267.44,1226.91 L268.57,1228.20 L269.71,1229.47 L270.85,1230.73 L271.99,1231.98 L273.14,1233.21 L274.29,1234.42 L275.44,1235.63 L276.60,1236.82 L277.76,1237.99 L278.92,1239.16 L280.09,1240.31 L281.26,1241.45 L282.44,1242.57 L283.61,1243.68 L284.80,1244.78 L285.98,1245.87 L287.17,1246.94 L288.36,1248.00 L289.56,1249.05 L290.76,1250.09 L291.96,1251.12 L293.16,1252.13 L294.37,1253.13 L295.58,1254.12 L296.80,1255.10 L298.02,1256.07 L299.24,1257.02 L300.47,1257.97 L301.70,1258.90 L302.93,1259.82 L304.17,1260.74 L305.40,1261.64 L306.65,1262.53 L307.89,1263.41 L309.14,1264.28 L310.40,1265.13 L311.65,1265.98 L312.91,1266.82 L314.17,1267.65 L315.44,1268.47 L316.71,1269.28 L317.98,1270.07 L319.26,1270.86 L320.53,1271.64 L321.82,1272.41 L323.10,1273.17 L324.39,1273.93 L325.68,1274.67 L326.98,1275.40 L328.28,1276.13 L329.58,1276.84 L330.88,1277.55 L332.19,1278.25 L333.50,1278.94 L334.82,1279.62 L336.14,1280.29 L337.46,1280.96 L338.78,1281.62 L340.11,1282.27 L341.44,1282.91 L342.77,1283.54 L344.11,1284.17 L345.45,1284.79 L346.79,1285.40 L348.14,1286.00 L349.49,1286.60 L350.84,1287.19 L352.20,1287.77 L353.56,1288.34 L354.92,1288.91 L356.28,1289.47 L357.65,1290.02 L359.02,1290.57 L360.40,1291.11 L361.78,1291.65 L363.16,1292.17 L364.54,1292.69 L365.93,1293.21 L367.32,1293.72 L368.71,1294.22 L370.11,1294.72 L371.51,1295.21 L372.91,1295.69 L374.32,1296.17 L375.73,1296.64 L377.14,1297.11 L378.55,1297.57 L379.97,1298.03 L381.39,1298.48 L382.82,1298.92 L384.24,1299.36 L385.67,1299.80 L387.11,1300.23 L388.54,1300.65 L389.98,1301.07 L391.42,1301.49 L392.87,1301.89 L394.32,1302.30 L395.77,1302.70 L397.22,1303.09 L398.68,1303.49 L400.14,1303.87 L401.60,1304.25 L403.07,1304.63 L404.54,1305.00 L406.01,1305.37 L407.49,1305.73 L408.96,1306.09 L410.45,1306.45 L411.93,1306.80 L413.42,1307.15 L414.91,1307.49 L416.40,1307.83 L417.90,1308.17 L419.40,1308.50 L420.90,1308.83 L422.40,1309.15 L423.91,1309.47 L425.42,1309.79 L426.93,1310.10 L428.45,1310.41 L429.97,1310.72 L431.49,1311.02 L433.02,1311.32 L434.55,1311.62 L436.08,1311.91 L437.61,1312.20 L439.15,1312.49 L440.69,1312.77 L442.23,1313.06 L443.77,1313.33 L445.32,1313.61 L446.87,1313.88 L448.43,1314.15 L449.99,1314.41 L451.55,1314.68 L453.11,1314.94 L454.67,1315.19 L456.24,1315.45 L457.81,1315.70 L459.39,1315.95 L460.97,1316.20 L462.54,1316.44 L464.13,1316.68 L465.71,1316.92 L467.30,1317.16 L468.89,1317.39 L470.49,1317.62 L472.08,1317.85 L473.68,1318.08 L475.29,1318.31 L476.89,1318.53 L478.50,1318.75 L480.11,1318.97 L481.72,1319.18 L483.34,1319.40 L484.96,1319.61 L486.58,1319.82 L488.21,1320.03 L489.83,1320.23 L491.47,1320.43 L493.10,1320.64 L494.73,1320.84 L496.37,1321.03 L498.01,1321.23 L499.66,1321.42 L501.31,1321.61 L502.96,1321.81 L504.61,1321.99 L506.26,1322.18 L507.92,1322.37 L509.58,1322.55 L511.25,1322.73 L512.91,1322.91 L514.58,1323.09 L516.25,1323.26 L517.93,1323.44 L519.61,1323.61 L521.29,1323.78 L522.97,1323.95 L524.66,1324.12 L526.34,1324.29 L528.03,1324.46 L529.73,1324.62 L531.42,1324.78 L533.12,1324.94 L534.83,1325.10 L536.53,1325.26 L538.24,1325.42 L539.95,1325.57 L541.66,1325.73 L543.37,1325.88 L545.09,1326.03 L546.81,1326.18 L548.54,1326.33 L550.26,1326.48 L551.99,1326.63 L553.72,1326.77 L555.46,1326.92 L557.19,1327.06 L558.93,1327.20 L560.68,1327.34 L562.42,1327.48 L564.17,1327.62 L565.92,1327.76 L567.67,1327.89 L569.43,1328.03 L571.18,1328.16 L572.94,1328.30 L574.71,1328.43 L576.47,1328.56 L578.24,1328.69 L580.01,1328.82 L581.79,1328.94 L583.56,1329.07 L585.34,1329.19 L587.12,1329.32 L588.91,1329.44 L590.70,1329.57 L592.49,1329.69 L594.28,1329.81 L596.07,1329.93 L597.87,1330.05 L599.67,1330.16 L601.47,1330.28 L603.28,1330.40 L605.09,1330.51 L606.90,1330.63 L608.71,1330.74 L610.52,1330.85 L612.34,1330.96 L614.16,1331.07 L615.99,1331.18 L617.81,1331.29 L619.64,1331.40 L621.47,1331.51 L623.31,1331.62 L625.14,1331.72 L626.98,1331.83 L628.82,1331.93 L630.67,1332.04 L632.51,1332.14 L634.36,1332.24 L636.21,1332.34 L638.07,1332.44 L639.93,1332.54 L641.78,1332.64 L643.65,1332.74 L645.51,1332.84 L647.38,1332.93 L649.25,1333.03 L651.12,1333.13 L652.99,1333.22 L654.87,1333.32 L656.75,1333.41 L658.63,1333.50 L660.52,1333.59 L662.40,1333.69 L664.29,1333.78 L666.19,1333.87 L668.08,1333.96 L669.98,1334.05 L671.88,1334.13 L673.78,1334.22 L675.69,1334.31 L677.59,1334.39 L679.50,1334.48 L681.42,1334.57 L683.33,1334.65 L685.25,1334.73 L687.17,1334.82 L689.09,1334.90 L691.01,1334.98 L692.94,1335.06 L694.87,1335.15 L696.80,1335.23 L698.74,1335.31 L700.68,1335.39 L702.62,1335.46 L704.56,1335.54 L706.50,1335.62 L708.45,1335.70 L710.40,1335.77 L712.35,1335.85 L714.31,1335.93 L716.26,1336.00 L718.22,1336.08 L720.18,1336.15 L722.15,1336.22 L724.12,1336.30 L726.09,1336.37 L728.06,1336.44 L730.03,1336.51 L732.01,1336.58 L733.99,1336.65 L735.97,1336.72 L737.95,1336.79 L739.94,1336.86 L741.93,1336.93 L743.92,1337.00 L745.91,1337.07 L747.91,1337.14 L749.91,1337.20 L751.91,1337.27 L753.91,1337.33 L755.92,1337.40 L757.93,1337.46 L759.94,1337.53 L761.95,1337.59 L763.97,1337.66 L765.98,1337.72 L768.01,1337.78 L770.03,1337.84 L772.05,1337.91 L774.08,1337.97 L776.11,1338.03 L778.14,1338.09 L780.18,1338.15 L782.22,1338.21 L784.26,1338.27 L786.30,1338.33 L788.34,1338.39 L790.39,1338.44 L792.44,1338.50 L794.49,1338.56 L796.54,1338.62 L798.60,1338.67 L800.66,1338.73 L802.72,1338.78 L804.78,1338.84 L806.85,1338.89 L808.92,1338.95 L810.99,1339.00 L813.06,1339.06 L815.14,1339.11 L817.21,1339.16 L819.30,1339.21 L821.38,1339.27 L823.46,1339.32 L825.55,1339.37 L827.64,1339.42 L829.73,1339.47 L831.83,1339.52 L833.92,1339.57 L836.02,1339.62 L838.12,1339.67 L840.23,1339.72 L842.33,1339.77 L844.44,1339.82 L846.55,1339.87 L848.66,1339.91 L850.78,1339.96 L852.90,1340.01 L855.02,1340.05 L857.14,1340.10 L859.27,1340.15 L861.39,1340.19 L863.52,1340.24 L865.65,1340.28 L867.79,1340.33 L869.92,1340.37 L872.06,1340.42 L874.20,1340.46 L876.35,1340.50 L878.49,1340.55 L880.64,1340.59 L882.79,1340.63 L884.94,1340.67 L887.10,1340.72 L889.26,1340.76 L891.42,1340.80 L893.58,1340.84 L895.74,1340.88 L897.91,1340.92 L900.08,1340.96 L902.25,1341.00 L904.42,1341.04 L906.60,1341.08 L908.78,1341.12 L910.96,1341.16 L913.14,1341.20 L915.32,1341.23 L917.51,1341.27 L919.70,1341.31 L921.89,1341.35 L924.09,1341.38 L926.28,1341.42 L928.48,1341.46 L930.68,1341.49 L932.89,1341.53 L935.09,1341.56 L937.30,1341.60 L939.51,1341.63 L941.72,1341.67 L943.94,1341.70 L946.15,1341.74 L948.37,1341.77 L950.59,1341.81 L952.82,1341.84 L955.04,1341.87 L957.27,1341.91 L959.50,1341.94 L961.73,1341.97 L963.97,1342.00 L966.21,1342.04 L968.44,1342.07 L970.69,1342.10 L972.93,1342.13" stroke="#000" stroke-width="6.4" transform="translate(0,0)"/>
<path d="M132.45,802.20 L132.48,802.41 L132.54,802.83 L132.63,803.40 L132.73,804.10 L132.85,804.91 L132.98,805.83 L133.13,806.84 L133.29,807.94 L133.47,809.12 L133.65,810.38 L133.85,811.72 L134.06,813.13 L134.28,814.60 L134.51,816.14 L134.75,817.74 L135.00,819.40 L135.26,821.12 L135.53,822.89 L135.81,824.72 L136.10,826.60 L136.40,828.52 L136.70,830.50 L137.01,832.52 L137.34,834.59 L137.67,836.69 L138.00,838.84 L138.35,841.03 L138.70,843.26 L139.06,845.53 L139.43,847.83 L139.81,850.16 L140.19,852.53 L140.58,854.93 L140.98,857.36 L141.39,859.82 L141.80,862.31 L142.22,864.83 L142.64,867.37 L143.08,869.94 L143.51,872.53 L143.96,875.15 L144.41,877.79 L144.87,880.45 L145.34,883.13 L145.81,885.83 L146.29,888.54 L146.77,891.28 L147.26,894.03 L147.76,896.80 L148.26,899.58 L148.77,902.38 L149.29,905.19 L149.81,908.01 L150.33,910.84 L150.87,913.69 L151.41,916.54 L151.95,919.41 L152.50,922.28 L153.06,925.16 L153.62,928.05 L154.19,930.95 L154.76,933.85 L155.34,936.75 L155.92,939.66 L156.51,942.58 L157.11,945.50 L157.71,948.42 L158.31,951.34 L158.92,954.26 L159.54,957.19 L160.16,960.12 L160.79,963.04 L161.42,965.97 L162.06,968.89 L162.70,971.81 L163.35,974.73 L164.00,977.65 L164.66,980.56 L165.32,983.47 L165.99,986.37 L166.67,989.27 L167.34,992.17 L168.03,995.06 L168.72,997.94 L169.41,1000.82 L170.11,1003.69 L170.81,1006.55 L171.52,1009.41 L172.23,1012.26 L172.95,1015.10 L173.67,1017.93 L174.40,1020.75 L175.13,1023.56 L175.87,1026.36 L176.61,1029.15 L177.35,1031.93 L178.10,1034.70 L178.86,1037.46 L179.62,1040.21 L180.38,1042.95 L181.15,1045.67 L181.93,1048.39 L182.71,1051.09 L183.49,1053.77 L184.28,1056.45 L185.07,1059.11 L185.86,1061.76 L186.67,1064.39 L187.47,1067.01 L188.28,1069.62 L189.09,1072.21 L189.91,1074.79 L190.74,1077.35 L191.56,1079.90 L192.40,1082.44 L193.23,1084.96 L194.07,1087.46 L194.92,1089.95 L195.77,1092.42 L196.62,1094.88 L197.48,1097.32 L198.34,1099.75 L199.21,1102.16 L200.08,1104.55 L200.95,1106.93 L201.83,1109.29 L202.71,1111.64 L203.60,1113.96 L204.49,1116.28 L205.39,1118.57 L206.29,1120.85 L207.19,1123.11 L208.10,1125.36 L209.01,1127.58 L209.93,1129.80 L210.85,1131.99 L211.77,1134.17 L212.70,1136.33 L213.63,1138.47 L214.57,1140.60 L215.51,1142.71 L216.46,1144.80 L217.40,1146.87 L218.36,1148.93 L219.31,1150.97 L220.27,1152.99 L221.24,1155.00 L222.21,1156.99 L223.18,1158.96 L224.15,1160.92 L225.13,1162.85 L226.12,1164.77 L227.11,1166.68 L228.10,1168.56 L229.09,1170.43 L230.09,1172.29 L231.10,1174.12 L232.10,1175.94 L233.12,1177.74 L234.13,1179.53 L235.15,1181.30 L236.17,1183.05 L237.20,1184.78 L238.23,1186.50 L239.26,1188.21 L240.30,1189.89 L241.34,1191.56 L242.39,1193.21 L243.43,1194.85 L244.49,1196.47 L245.54,1198.07 L246.60,1199.66 L247.67,1201.24 L248.73,1202.79 L249.81,1204.33 L250.88,1205.86 L251.96,1207.37 L253.04,1208.86 L254.13,1210.34 L255.22,1211.80 L256.31,1213.25 L257.41,1214.69 L258.51,1216.10 L259.61,1217.51 L260.72,1218.89 L261.83,1220.27 L262.94,1221.63 L264.06,1222.97 L265.18,1224.30 L266.31,1225.61 L267.44,1226.91 L268.57,1228.20 L269.71,1229.47 L270.85,1230.73 L271.99,1231.98 L273.14,1233.21 L274.29,1234.42 L275.44,1235.63 L276.60,1236.82 L277.76,1237.99 L278.92,1239.16 L280.09,1240.31 L281.26,1241.45 L282.44,1242.57 L283.61,1243.68 L284.80,1244.78 L285.98,1245.87 L287.17,1246.94 L288.36,1248.00 L289.56,1249.05 L290.76,1250.09 L291.96,1251.12 L293.16,1252.13 L294.37,1253.13 L295.58,1254.12 L296.80,1255.10 L298.02,1256.07 L299.24,1257.02 L300.47,1257.97 L301.70,1258.90 L302.93,1259.82 L304.17,1260.74 L305.40,1261.64 L306.65,1262.53 L307.89,1263.41 L309.14,1264.28 L310.40,1265.13 L311.65,1265.98 L312.91,1266.82 L314.17,1267.65 L315.44,1268.47 L316.71,1269.28 L317.98,1270.07 L319.26,1270.86 L320.53,1271.64 L321.82,1272.41 L323.10,1273.17 L324.39,1273.93 L325.68,1274.67 L326.98,1275.40 L328.28,1276.13 L329.58,1276.84 L330.88,1277.55 L332.19,1278.25 L333.50,1278.94 L334.82,1279.62 L336.14,1280.29 L337.46,1280.96 L338.78,1281.62 L340.11,1282.27 L341.44,1282.91 L342.77,1283.54 L344.11,1284.17 L345.45,1284.79 L346.79,1285.40 L348.14,1286.00 L349.49,1286.60 L350.84,1287.19 L352.20,1287.77 L353.56,1288.34 L354.92,1288.91 L356.28,1289.47 L357.65,1290.02 L359.02,1290.57 L360.40,1291.11 L361.78,1291.65 L363.16,1292.17 L364.54,1292.69 L365.93,1293.21 L367.32,1293.72 L368.71,1294.22 L370.11,1294.72 L371.51,1295.21 L372.91,1295.69 L374.32,1296.17 L375.73,1296.64 L377.14,1297.11 L378.55,1297.57 L379.97,1298.03 L381.39,1298.48 L382.82,1298.92 L384.24,1299.36 L385.67,1299.80 L387.11,1300.23 L388.54,1300.65 L389.98,1301.07 L391.42,1301.49 L392.87,1301.89 L394.32,1302.30 L395.77,1302.70 L397.22,1303.09 L398.68,1303.49 L400.14,1303.87 L401.60,1304.25 L403.07,1304.63 L404.54,1305.00 L406.01,1305.37 L407.49,1305.73 L408.96,1306.09 L410.45,1306.45 L411.93,1306.80 L413.42,1307.15 L414.91,1307.49 L416.40,1307.83 L417.90,1308.17 L419.40,1308.50 L420.90,1308.83 L422.40,1309.15 L423.91,1309.47 L425.42,1309.79 L426.93,1310.10 L428.45,1310.41 L429.97,1310.72 L431.49,1311.02 L433.02,1311.32 L434.55,1311.62 L436.08,1311.91 L437.61,1312.20 L439.15,1312.49 L440.69,1312.77 L442.23,1313.06 L443.77,1313.33 L445.32,1313.61 L446.87,1313.88 L448.43,1314.15 L449.99,1314.41 L451.55,1314.68 L453.11,1314.94 L454.67,1315.19 L456.24,1315.45 L457.81,1315.70 L459.39,1315.95 L460.97,1316.20 L462.54,1316.44 L464.13,1316.68 L465.71,1316.92 L467.30,1317.16 L468.89,1317.39 L470.49,1317.62 L472.08,1317.85 L473.68,1318.08 L475.29,1318.31 L476.89,1318.53 L478.50,1318.75 L480.11,1318.97 L481.72,1319.18 L483.34,1319.40 L484.96,1319.61 L486.58,1319.82 L488.21,1320.03 L489.83,1320.23 L491.47,1320.43 L493.10,1320.64 L494.73,1320.84 L496.37,1321.03 L498.01,1321.23 L499.66,1321.42 L501.31,1321.61 L502.96,1321.81 L504.61,1321.99 L506.26,1322.18 L507.92,1322.37 L509.58,1322.55 L511.25,1322.73 L512.91,1322.91 L514.58,1323.09 L516.25,1323.26 L517.93,1323.44 L519.61,1323.61 L521.29,1323.78 L522.97,1323.95 L524.66,1324.12 L526.34,1324.29 L528.03,1324.46 L529.73,1324.62 L531.42,1324.78 L533.12,1324.94 L534.83,1325.10 L536.53,1325.26 L538.24,1325.42 L539.95,1325.57 L541.66,1325.73 L543.37,1325.88 L545.09,1326.03 L546.81,1326.18 L548.54,1326.33 L550.26,1326.48 L551.99,1326.63 L553.72,1326.77 L555.46,1326.92 L557.19,1327.06 L558.93,1327.20 L560.68,1327.34 L562.42,1327.48 L564.17,1327.62 L565.92,1327.76 L567.67,1327.89 L569.43,1328.03 L571.18,1328.16 L572.94,1328.30 L574.71,1328.43 L576.47,1328.56 L578.24,1328.69 L580.01,1328.82 L581.79,1328.94 L583.56,1329.07 L585.34,1329.19 L587.12,1329.32 L588.91,1329.44 L590.70,1329.57 L592.49,1329.69 L594.28,1329.81 L596.07,1329.93 L597.87,1330.05 L599.67,1330.16 L601.47,1330.28 L603.28,1330.40 L605.09,1330.51 L606.90,1330.63 L608.71,1330.74 L610.52,1330.85 L612.34,1330.96 L614.16,1331.07 L615.99,1331.18 L617.81,1331.29 L619.64,1331.40 L621.47,1331.51 L623.31,1331.62 L625.14,1331.72 L626.98,1331.83 L628.82,1331.93 L630.67,1332.04 L632.51,1332.14 L634.36,1332.24 L636.21,1332.34 L638.07,1332.44 L639.93,1332.54 L641.78,1332.64 L643.65,1332.74 L645.51,1332.84 L647.38,1332.93 L649.25,1333.03 L651.12,1333.13 L652.99,1333.22 L654.87,1333.32 L656.75,1333.41 L658.63,1333.50 L660.52,1333.59 L662.40,1333.69 L664.29,1333.78 L666.19,1333.87 L668.08,1333.96 L669.98,1334.05 L671.88,1334.13 L673.78,1334.22 L675.69,1334.31 L677.59,1334.39 L679.50,1334.48 L681.42,1334.57 L683.33,1334.65 L685.25,1334.73 L687.17,1334.82 L689.09,1334.90 L691.01,1334.98 L692.94,1335.06 L694.87,1335.15 L696.80,1335.23 L698.74,1335.31 L700.68,1335.39 L702.62,1335.46 L704.56,1335.54 L706.50,1335.62 L708.45,1335.70 L710.40,1335.77 L712.35,1335.85 L714.31,1335.93 L716.26,1336.00 L718.22,1336.08 L720.18,1336.15 L722.15,1336.22 L724.12,1336.30 L726.09,1336.37 L728.06,1336.44 L730.03,1336.51 L732.01,1336.58 L733.99,1336.65 L735.97,1336.72 L737.95,1336.79 L739.94,1336.86 L741.93,1336.93 L743.92,1337.00 L745.91,1337.07 L747.91,1337.14 L749.91,1337.20 L751.91,1337.27 L753.91,1337.33 L755.92,1337.40 L757.93,1337.46 L759.94,1337.53 L761.95,1337.59 L763.97,1337.66 L765.98,1337.72 L768.01,1337.78 L770.03,1337.84 L772.05,1337.91 L774.08,1337.97 L776.11,1338.03 L778.14,1338.09 L780.18,1338.15 L782.22,1338.21 L784.26,1338.27 L786.30,1338.33 L788.34,1338.39 L790.39,1338.44 L792.44,1338.50 L794.49,1338.56 L796.54,1338.62 L798.60,1338.67 L800.66,1338.73 L802.72,1338.78 L804.78,1338.84 L806.85,1338.89 L808.92,1338.95 L810.99,1339.00 L813.06,1339.06 L815.14,1339.11 L817.21,1339.16 L819.30,1339.21 L821.38,1339.27 L823.46,1339.32 L825.55,1339.37 L827.64,1339.42 L829.73,1339.47 L831.83,1339.52 L833.92,1339.57 L836.02,1339.62 L838.12,1339.67 L840.23,1339.72 L842.33,1339.77 L844.44,1339.82 L846.55,1339.87 L848.66,1339.91 L850.78,1339.96 L852.90,1340.01 L855.02,1340.05 L857.14,1340.10 L859.27,1340.15 L861.39,1340.19 L863.52,1340.24 L865.65,1340.28 L867.79,1340.33 L869.92,1340.37 L872.06,1340.42 L874.20,1340.46 L876.35,1340.50 L878.49,1340.55 L880.64,1340.59 L882.79,1340.63 L884.94,1340.67 L887.10,1340.72 L889.26,1340.76 L891.42,1340.80 L893.58,1340.84 L895.74,1340.88 L897.91,1340.92 L900.08,1340.96 L902.25,1341.00 L904.42,1341.04 L906.60,1341.08 L908.78,1341.12 L910.96,1341.16 L913.14,1341.20 L915.32,1341.23 L917.51,1341.27 L919.70,1341.31 L921.89,1341.35 L924.09,1341.38 L926.28,1341.42 L928.48,1341.46 L930.68,1341.49 L932.89,1341.53 L935.09,1341.56 L937.30,1341.60 L939.51,1341.63 L941.72,1341.67 L943.94,1341.70 L946.15,1341.74 L948.37,1341.77 L950.59,1341.81 L952.82,1341.84 L955.04,1341.87 L957.27,1341.91 L959.50,1341.94 L961.73,1341.97 L963.97,1342.00 L966.21,1342.04 L968.44,1342.07 L970.69,1342.10 L972.93,1342.13" stroke="#ff0000" stroke-width="2.2"/>
<path d="M132.45,802.20 L132.48,802.38 L132.54,802.75 L132.63,803.26 L132.73,803.88 L132.85,804.60 L132.98,805.41 L133.13,806.30 L133.29,807.28 L133.47,808.32 L133.65,809.44 L133.85,810.62 L134.06,811.87 L134.28,813.18 L134.51,814.55 L134.75,815.97 L135.00,817.44 L135.26,818.97 L135.53,820.55 L135.81,822.18 L136.10,823.85 L136.40,825.57 L136.70,827.34 L137.01,829.14 L137.34,830.99 L137.67,832.88 L138.00,834.80 L138.35,836.77 L138.70,838.77 L139.06,840.80 L139.43,842.87 L139.81,844.97 L140.19,847.11 L140.58,849.27 L140.98,851.47 L141.39,853.69 L141.80,855.95 L142.22,858.23 L142.64,860.53 L143.08,862.86 L143.51,865.22 L143.96,867.60 L144.41,870.01 L144.87,872.43 L145.34,874.88 L145.81,877.35 L146.29,879.83 L146.77,882.34 L147.26,884.87 L147.76,887.41 L148.26,889.97 L148.77,892.55 L149.29,895.14 L149.81,897.75 L150.33,900.37 L150.87,903.00 L151.41,905.65 L151.95,908.31 L152.50,910.99 L153.06,913.67 L153.62,916.36 L154.19,919.07 L154.76,921.78 L155.34,924.51 L155.92,927.24 L156.51,929.98 L157.11,932.72 L157.71,935.47 L158.31,938.23 L158.92,941.00 L159.54,943.77 L160.16,946.54 L160.79,949.32 L161.42,952.10 L162.06,954.89 L162.70,957.68 L163.35,960.47 L164.00,963.26 L164.66,966.05 L165.32,968.85 L165.99,971.64 L166.67,974.44 L167.34,977.23 L168.03,980.03 L168.72,982.82 L169.41,985.61 L170.11,988.40 L170.81,991.19 L171.52,993.97 L172.23,996.76 L172.95,999.53 L173.67,1002.31 L174.40,1005.08 L175.13,1007.84 L175.87,1010.60 L176.61,1013.36 L177.35,1016.11 L178.10,1018.86 L178.86,1021.60 L179.62,1024.33 L180.38,1027.05 L181.15,1029.77 L181.93,1032.48 L182.71,1035.19 L183.49,1037.88 L184.28,1040.57 L185.07,1043.25 L185.86,1045.93 L186.67,1048.59 L187.47,1051.24 L188.28,1053.89 L189.09,1056.52 L189.91,1059.15 L190.74,1061.76 L191.56,1064.37 L192.40,1066.96 L193.23,1069.55 L194.07,1072.12 L194.92,1074.69 L195.77,1077.24 L196.62,1079.78 L197.48,1082.31 L198.34,1084.82 L199.21,1087.33 L200.08,1089.82 L200.95,1092.30 L201.83,1094.77 L202.71,1097.23 L203.60,1099.67 L204.49,1102.11 L205.39,1104.52 L206.29,1106.93 L207.19,1109.32 L208.10,1111.70 L209.01,1114.07 L209.93,1116.42 L210.85,1118.76 L211.77,1121.08 L212.70,1123.40 L213.63,1125.69 L214.57,1127.98 L215.51,1130.25 L216.46,1132.50 L217.40,1134.74 L218.36,1136.97 L219.31,1139.18 L220.27,1141.38 L221.24,1143.56 L222.21,1145.73 L223.18,1147.89 L224.15,1150.03 L225.13,1152.15 L226.12,1154.26 L227.11,1156.36 L228.10,1158.44 L229.09,1160.51 L230.09,1162.56 L231.10,1164.59 L232.10,1166.62 L233.12,1168.62 L234.13,1170.61 L235.15,1172.59 L236.17,1174.55 L237.20,1176.50 L238.23,1178.43 L239.26,1180.34 L240.30,1182.24 L241.34,1184.13 L242.39,1186.00 L243.43,1187.86 L244.49,1189.70 L245.54,1191.52 L246.60,1193.33 L247.67,1195.13 L248.73,1196.91 L249.81,1198.68 L250.88,1200.43 L251.96,1202.16 L253.04,1203.88 L254.13,1205.59 L255.22,1207.28 L256.31,1208.95 L257.41,1210.62 L258.51,1212.26 L259.61,1213.89 L260.72,1215.51 L261.83,1217.11 L262.94,1218.70 L264.06,1220.27 L265.18,1221.83 L266.31,1223.38 L267.44,1224.91 L268.57,1226.42 L269.71,1227.92 L270.85,1229.41 L271.99,1230.88 L273.14,1232.34 L274.29,1233.78 L275.44,1235.21 L276.60,1236.63 L277.76,1238.03 L278.92,1239.42 L280.09,1240.79 L281.26,1242.16 L282.44,1243.50 L283.61,1244.84 L284.80,1246.16 L285.98,1247.46 L287.17,1248.75 L288.36,1250.03 L289.56,1251.30 L290.76,1252.55 L291.96,1253.79 L293.16,1255.02 L294.37,1256.23 L295.58,1257.44 L296.80,1258.62 L298.02,1259.80 L299.24,1260.96 L300.47,1262.11 L301.70,1263.25 L302.93,1264.38 L304.17,1265.49 L305.40,1266.59 L306.65,1267.68 L307.89,1268.75 L309.14,1269.82 L310.40,1270.87 L311.65,1271.91 L312.91,1272.94 L314.17,1273.96 L315.44,1274.96 L316.71,1275.96 L317.98,1276.94 L319.26,1277.91 L320.53,1278.87 L321.82,1279.82 L323.10,1280.76 L324.39,1281.69 L325.68,1282.60 L326.98,1283.51 L328.28,1284.40 L329.58,1285.28 L330.88,1286.16 L332.19,1287.02 L333.50,1287.87 L334.82,1288.71 L336.14,1289.55 L337.46,1290.37 L338.78,1291.18 L340.11,1291.98 L341.44,1292.77 L342.77,1293.55 L344.11,1294.33 L345.45,1295.09 L346.79,1295.84 L348.14,1296.59 L349.49,1297.32 L350.84,1298.04 L352.20,1298.76 L353.56,1299.47 L354.92,1300.16 L356.28,1300.85 L357.65,1301.53 L359.02,1302.20 L360.40,1302.87 L361.78,1303.52 L363.16,1304.17 L364.54,1304.80 L365.93,1305.43 L367.32,1306.05 L368.71,1306.66 L370.11,1307.27 L371.51,1307.86 L372.91,1308.45 L374.32,1309.03 L375.73,1309.60 L377.14,1310.17 L378.55,1310.72 L379.97,1311.27 L381.39,1311.82 L382.82,1312.35 L384.24,1312.88 L385.67,1313.40 L387.11,1313.91 L388.54,1314.42 L389.98,1314.92 L391.42,1315.41 L392.87,1315.89 L394.32,1316.37 L395.77,1316.84 L397.22,1317.31 L398.68,1317.77 L400.14,1318.22 L401.60,1318.67 L403.07,1319.11 L404.54,1319.54 L406.01,1319.97 L407.49,1320.39 L408.96,1320.80 L410.45,1321.21 L411.93,1321.61 L413.42,1322.01 L414.91,1322.40 L416.40,1322.79 L417.90,1323.17 L419.40,1323.54 L420.90,1323.91 L422.40,1324.28 L423.91,1324.63 L425.42,1324.99 L426.93,1325.34 L428.45,1325.68 L429.97,1326.02 L431.49,1326.35 L433.02,1326.68 L434.55,1327.00 L436.08,1327.32 L437.61,1327.63 L439.15,1327.94 L440.69,1328.24 L442.23,1328.54 L443.77,1328.84 L445.32,1329.13 L446.87,1329.41 L448.43,1329.69 L449.99,1329.97 L451.55,1330.24 L453.11,1330.51 L454.67,1330.77 L456.24,1331.03 L457.81,1331.29 L459.39,1331.54 L460.97,1331.79 L462.54,1332.04 L464.13,1332.28 L465.71,1332.51 L467.30,1332.75 L468.89,1332.97 L470.49,1333.20 L472.08,1333.42 L473.68,1333.64 L475.29,1333.86 L476.89,1334.07 L478.50,1334.28 L480.11,1334.48 L481.72,1334.68 L483.34,1334.88 L484.96,1335.08 L486.58,1335.27 L488.21,1335.46 L489.83,1335.64 L491.47,1335.83 L493.10,1336.01 L494.73,1336.18 L496.37,1336.36 L498.01,1336.53 L499.66,1336.70 L501.31,1336.86 L502.96,1337.02 L504.61,1337.18 L506.26,1337.34 L507.92,1337.50 L509.58,1337.65 L511.25,1337.80 L512.91,1337.94 L514.58,1338.09 L516.25,1338.23 L517.93,1338.37 L519.61,1338.51 L521.29,1338.64 L522.97,1338.78 L524.66,1338.91 L526.34,1339.04 L528.03,1339.16 L529.73,1339.29 L531.42,1339.41 L533.12,1339.53 L534.83,1339.65 L536.53,1339.76 L538.24,1339.88 L539.95,1339.99 L541.66,1340.10 L543.37,1340.20 L545.09,1340.31 L546.81,1340.41 L548.54,1340.52 L550.26,1340.62 L551.99,1340.72 L553.72,1340.81 L555.46,1340.91 L557.19,1341.00 L558.93,1341.09 L560.68,1341.19 L562.42,1341.27 L564.17,1341.36 L565.92,1341.45 L567.67,1341.53 L569.43,1341.61 L571.18,1341.69 L572.94,1341.77 L574.71,1341.85 L576.47,1341.93 L578.24,1342.01 L580.01,1342.08 L581.79,1342.15 L583.56,1342.22 L585.34,1342.29 L587.12,1342.36 L588.91,1342.43 L590.70,1342.50 L592.49,1342.56 L594.28,1342.63 L596.07,1342.69 L597.87,1342.75 L599.67,1342.81 L601.47,1342.87 L603.28,1342.93 L605.09,1342.99 L606.90,1343.04 L608.71,1343.10 L610.52,1343.15 L612.34,1343.20 L614.16,1343.26 L615.99,1343.31 L617.81,1343.36 L619.64,1343.41 L621.47,1343.46 L623.31,1343.50 L625.14,1343.55 L626.98,1343.59 L628.82,1343.64 L630.67,1343.68 L632.51,1343.73 L634.36,1343.77 L636.21,1343.81 L638.07,1343.85 L639.93,1343.89 L641.78,1343.93 L643.65,1343.97 L645.51,1344.01 L647.38,1344.04 L649.25,1344.08 L651.12,1344.11 L652.99,1344.15 L654.87,1344.18 L656.75,1344.22 L658.63,1344.25 L660.52,1344.28 L662.40,1344.31 L664.29,1344.34 L666.19,1344.37 L668.08,1344.40 L669.98,1344.43 L671.88,1344.46 L673.78,1344.49 L675.69,1344.52 L677.59,1344.54 L679.50,1344.57 L681.42,1344.60 L683.33,1344.62 L685.25,1344.65 L687.17,1344.67 L689.09,1344.70 L691.01,1344.72 L692.94,1344.74 L694.87,1344.76 L696.80,1344.79 L698.74,1344.81 L700.68,1344.83 L702.62,1344.85 L704.56,1344.87 L706.50,1344.89 L708.45,1344.91 L710.40,1344.93 L712.35,1344.95 L714.31,1344.97 L716.26,1344.98 L718.22,1345.00 L720.18,1345.02 L722.15,1345.04 L724.12,1345.05 L726.09,1345.07 L728.06,1345.08 L730.03,1345.10 L732.01,1345.12 L733.99,1345.13 L735.97,1345.14 L737.95,1345.16 L739.94,1345.17 L741.93,1345.19 L743.92,1345.20 L745.91,1345.21 L747.91,1345.23 L749.91,1345.24 L751.91,1345.25 L753.91,1345.26 L755.92,1345.28 L757.93,1345.29 L759.94,1345.30 L761.95,1345.31 L763.97,1345.32 L765.98,1345.33 L768.01,1345.34 L770.03,1345.35 L772.05,1345.36 L774.08,1345.37 L776.11,1345.38 L778.14,1345.39 L780.18,1345.40 L782.22,1345.41 L784.26,1345.42 L786.30,1345.43 L788.34,1345.43 L790.39,1345.44 L792.44,1345.45 L794.49,1345.46 L796.54,1345.47 L798.60,1345.47 L800.66,1345.48 L802.72,1345.49 L804.78,1345.50 L806.85,1345.50 L808.92,1345.51 L810.99,1345.52 L813.06,1345.52 L815.14,1345.53 L817.21,1345.53 L819.30,1345.54 L821.38,1345.55 L823.46,1345.55 L825.55,1345.56 L827.64,1345.56 L829.73,1345.57 L831.83,1345.57 L833.92,1345.58 L836.02,1345.58 L838.12,1345.59 L840.23,1345.59 L842.33,1345.60 L844.44,1345.60 L846.55,1345.61 L848.66,1345.61 L850.78,1345.62 L852.90,1345.62 L855.02,1345.63 L857.14,1345.63 L859.27,1345.63 L861.39,1345.64 L863.52,1345.64 L865.65,1345.65 L867.79,1345.65 L869.92,1345.65 L872.06,1345.66 L874.20,1345.66 L876.35,1345.66 L878.49,1345.67 L880.64,1345.67 L882.79,1345.67 L884.94,1345.68 L887.10,1345.68 L889.26,1345.68 L891.42,1345.68 L893.58,1345.69 L895.74,1345.69 L897.91,1345.69 L900.08,1345.69 L902.25,1345.70 L904.42,1345.70 L906.60,1345.70 L908.78,1345.70 L910.96,1345.71 L913.14,1345.71 L915.32,1345.71 L917.51,1345.71 L919.70,1345.72 L921.89,1345.72 L924.09,1345.72 L926.28,1345.72 L928.48,1345.72 L930.68,1345.73 L932.89,1345.73 L935.09,1345.73 L937.30,1345.73 L939.51,1345.73 L941.72,1345.73 L943.94,1345.74 L946.15,1345.74 L948.37,1345.74 L950.59,1345.74 L952.82,1345.74 L955.04,1345.74 L957.27,1345.74 L959.50,1345.75 L961.73,1345.75 L963.97,1345.75 L966.21,1345.75 L968.44,1345.75 L970.69,1345.75 L972.93,1345.75" stroke="#0000ff" stroke-width="2.2"/>
<path d="M132.45,802.20 L132.48,802.64 L132.54,803.53 L132.63,804.73 L132.73,806.20 L132.85,807.90 L132.98,809.81 L133.13,811.90 L133.29,814.16 L133.47,816.57 L133.65,819.13 L133.85,821.82 L134.06,824.63 L134.28,827.55 L134.51,830.58 L134.75,833.70 L135.00,836.90 L135.26,840.19 L135.53,843.55 L135.81,846.98 L136.10,850.47 L136.40,854.02 L136.70,857.61 L137.01,861.25 L137.34,864.93 L137.67,868.65 L138.00,872.40 L138.35,876.17 L138.70,879.97 L139.06,883.79 L139.43,887.62 L139.81,891.47 L140.19,895.32 L140.58,899.18 L140.98,903.05 L141.39,906.91 L141.80,910.78 L142.22,914.64 L142.64,918.49 L143.08,922.33 L143.51,926.17 L143.96,929.99 L144.41,933.80 L144.87,937.59 L145.34,941.36 L145.81,945.12 L146.29,948.85 L146.77,952.57 L147.26,956.26 L147.76,959.92 L148.26,963.57 L148.77,967.19 L149.29,970.78 L149.81,974.34 L150.33,977.88 L150.87,981.39 L151.41,984.87 L151.95,988.32 L152.50,991.74 L153.06,995.13 L153.62,998.49 L154.19,1001.82 L154.76,1005.12 L155.34,1008.38 L155.92,1011.62 L156.51,1014.82 L157.11,1017.99 L157.71,1021.13 L158.31,1024.24 L158.92,1027.31 L159.54,1030.35 L160.16,1033.36 L160.79,1036.34 L161.42,1039.29 L162.06,1042.20 L162.70,1045.08 L163.35,1047.93 L164.00,1050.75 L164.66,1053.54 L165.32,1056.30 L165.99,1059.02 L166.67,1061.72 L167.34,1064.38 L168.03,1067.01 L168.72,1069.62 L169.41,1072.19 L170.11,1074.73 L170.81,1077.25 L171.52,1079.73 L172.23,1082.18 L172.95,1084.61 L173.67,1087.01 L174.40,1089.38 L175.13,1091.72 L175.87,1094.04 L176.61,1096.32 L177.35,1098.58 L178.10,1100.82 L178.86,1103.02 L179.62,1105.20 L180.38,1107.36 L181.15,1109.49 L181.93,1111.59 L182.71,1113.67 L183.49,1115.72 L184.28,1117.75 L185.07,1119.76 L185.86,1121.74 L186.67,1123.70 L187.47,1125.63 L188.28,1127.54 L189.09,1129.43 L189.91,1131.30 L190.74,1133.14 L191.56,1134.96 L192.40,1136.76 L193.23,1138.54 L194.07,1140.30 L194.92,1142.04 L195.77,1143.76 L196.62,1145.45 L197.48,1147.13 L198.34,1148.79 L199.21,1150.42 L200.08,1152.04 L200.95,1153.64 L201.83,1155.22 L202.71,1156.79 L203.60,1158.33 L204.49,1159.86 L205.39,1161.36 L206.29,1162.86 L207.19,1164.33 L208.10,1165.79 L209.01,1167.23 L209.93,1168.65 L210.85,1170.06 L211.77,1171.45 L212.70,1172.82 L213.63,1174.18 L214.57,1175.53 L215.51,1176.86 L216.46,1178.17 L217.40,1179.47 L218.36,1180.75 L219.31,1182.02 L220.27,1183.28 L221.24,1184.52 L222.21,1185.75 L223.18,1186.96 L224.15,1188.16 L225.13,1189.35 L226.12,1190.52 L227.11,1191.69 L228.10,1192.83 L229.09,1193.97 L230.09,1195.09 L231.10,1196.20 L232.10,1197.30 L233.12,1198.39 L234.13,1199.46 L235.15,1200.53 L236.17,1201.58 L237.20,1202.62 L238.23,1203.65 L239.26,1204.67 L240.30,1205.68 L241.34,1206.67 L242.39,1207.66 L243.43,1208.64 L244.49,1209.60 L245.54,1210.56 L246.60,1211.50 L247.67,1212.44 L248.73,1213.37 L249.81,1214.28 L250.88,1215.19 L251.96,1216.09 L253.04,1216.97 L254.13,1217.85 L255.22,1218.72 L256.31,1219.58 L257.41,1220.44 L258.51,1221.28 L259.61,1222.12 L260.72,1222.94 L261.83,1223.76 L262.94,1224.57 L264.06,1225.37 L265.18,1226.17 L266.31,1226.95 L267.44,1227.73 L268.57,1228.50 L269.71,1229.26 L270.85,1230.02 L271.99,1230.77 L273.14,1231.51 L274.29,1232.24 L275.44,1232.97 L276.60,1233.69 L277.76,1234.40 L278.92,1235.10 L280.09,1235.80 L281.26,1236.49 L282.44,1237.18 L283.61,1237.86 L284.80,1238.53 L285.98,1239.19 L287.17,1239.85 L288.36,1240.51 L289.56,1241.15 L290.76,1241.79 L291.96,1242.43 L293.16,1243.06 L294.37,1243.68 L295.58,1244.30 L296.80,1244.91 L298.02,1245.51 L299.24,1246.12 L300.47,1246.71 L301.70,1247.30 L302.93,1247.88 L304.17,1248.46 L305.40,1249.03 L306.65,1249.60 L307.89,1250.17 L309.14,1250.72 L310.40,1251.28 L311.65,1251.82 L312.91,1252.37 L314.17,1252.91 L315.44,1253.44 L316.71,1253.97 L317.98,1254.49 L319.26,1255.01 L320.53,1255.53 L321.82,1256.04 L323.10,1256.54 L324.39,1257.04 L325.68,1257.54 L326.98,1258.03 L328.28,1258.52 L329.58,1259.01 L330.88,1259.49 L332.19,1259.96 L333.50,1260.43 L334.82,1260.90 L336.14,1261.37 L337.46,1261.83 L338.78,1262.28 L340.11,1262.73 L341.44,1263.18 L342.77,1263.63 L344.11,1264.07 L345.45,1264.51 L346.79,1264.94 L348.14,1265.37 L349.49,1265.80 L350.84,1266.22 L352.20,1266.64 L353.56,1267.06 L354.92,1267.47 L356.28,1267.88 L357.65,1268.28 L359.02,1268.69 L360.40,1269.09 L361.78,1269.48 L363.16,1269.87 L364.54,1270.26 L365.93,1270.65 L367.32,1271.04 L368.71,1271.42 L370.11,1271.79 L371.51,1272.17 L372.91,1272.54 L374.32,1272.91 L375.73,1273.27 L377.14,1273.64 L378.55,1274.00 L379.97,1274.35 L381.39,1274.71 L382.82,1275.06 L384.24,1275.41 L385.67,1275.76 L387.11,1276.10 L388.54,1276.44 L389.98,1276.78 L391.42,1277.11 L392.87,1277.45 L394.32,1277.78 L395.77,1278.11 L397.22,1278.43 L398.68,1278.76 L400.14,1279.08 L401.60,1279.40 L403.07,1279.71 L404.54,1280.02 L406.01,1280.34 L407.49,1280.65 L408.96,1280.95 L410.45,1281.26 L411.93,1281.56 L413.42,1281.86 L414.91,1282.16 L416.40,1282.45 L417.90,1282.75 L419.40,1283.04 L420.90,1283.33 L422.40,1283.61 L423.91,1283.90 L425.42,1284.18 L426.93,1284.46 L428.45,1284.74 L429.97,1285.02 L431.49,1285.29 L433.02,1285.57 L434.55,1285.84 L436.08,1286.11 L437.61,1286.37 L439.15,1286.64 L440.69,1286.90 L442.23,1287.16 L443.77,1287.42 L445.32,1287.68 L446.87,1287.94 L448.43,1288.19 L449.99,1288.45 L451.55,1288.70 L453.11,1288.95 L454.67,1289.19 L456.24,1289.44 L457.81,1289.68 L459.39,1289.93 L460.97,1290.17 L462.54,1290.41 L464.13,1290.64 L465.71,1290.88 L467.30,1291.11 L468.89,1291.35 L470.49,1291.58 L472.08,1291.81 L473.68,1292.03 L475.29,1292.26 L476.89,1292.49 L478.50,1292.71 L480.11,1292.93 L481.72,1293.15 L483.34,1293.37 L484.96,1293.59 L486.58,1293.81 L488.21,1294.02 L489.83,1294.23 L491.47,1294.45 L493.10,1294.66 L494.73,1294.87 L496.37,1295.07 L498.01,1295.28 L499.66,1295.49 L501.31,1295.69 L502.96,1295.89 L504.61,1296.09 L506.26,1296.29 L507.92,1296.49 L509.58,1296.69 L511.25,1296.89 L512.91,1297.08 L514.58,1297.28 L516.25,1297.47 L517.93,1297.66 L519.61,1297.85 L521.29,1298.04 L522.97,1298.23 L524.66,1298.41 L526.34,1298.60 L528.03,1298.78 L529.73,1298.97 L531.42,1299.15 L533.12,1299.33 L534.83,1299.51 L536.53,1299.69 L538.24,1299.87 L539.95,1300.04 L541.66,1300.22 L543.37,1300.39 L545.09,1300.56 L546.81,1300.74 L548.54,1300.91 L550.26,1301.08 L551.99,1301.25 L553.72,1301.42 L555.46,1301.58 L557.19,1301.75 L558.93,1301.91 L560.68,1302.08 L562.42,1302.24 L564.17,1302.40 L565.92,1302.57 L567.67,1302.73 L569.43,1302.88 L571.18,1303.04 L572.94,1303.20 L574.71,1303.36 L576.47,1303.51 L578.24,1303.67 L580.01,1303.82 L581.79,1303.97 L583.56,1304.13 L585.34,1304.28 L587.12,1304.43 L588.91,1304.58 L590.70,1304.73 L592.49,1304.87 L594.28,1305.02 L596.07,1305.17 L597.87,1305.31 L599.67,1305.46 L601.47,1305.60 L603.28,1305.74 L605.09,1305.88 L606.90,1306.03 L608.71,1306.17 L610.52,1306.31 L612.34,1306.44 L614.16,1306.58 L615.99,1306.72 L617.81,1306.86 L619.64,1306.99 L621.47,1307.13 L623.31,1307.26 L625.14,1307.40 L626.98,1307.53 L628.82,1307.66 L630.67,1307.79 L632.51,1307.92 L634.36,1308.05 L636.21,1308.18 L638.07,1308.31 L639.93,1308.44 L641.78,1308.56 L643.65,1308.69 L645.51,1308.82 L647.38,1308.94 L649.25,1309.07 L651.12,1309.19 L652.99,1309.31 L654.87,1309.43 L656.75,1309.56 L658.63,1309.68 L660.52,1309.80 L662.40,1309.92 L664.29,1310.04 L666.19,1310.15 L668.08,1310.27 L669.98,1310.39 L671.88,1310.51 L673.78,1310.62 L675.69,1310.74 L677.59,1310.85 L679.50,1310.97 L681.42,1311.08 L683.33,1311.19 L685.25,1311.31 L687.17,1311.42 L689.09,1311.53 L691.01,1311.64 L692.94,1311.75 L694.87,1311.86 L696.80,1311.97 L698.74,1312.08 L700.68,1312.18 L702.62,1312.29 L704.56,1312.40 L706.50,1312.50 L708.45,1312.61 L710.40,1312.72 L712.35,1312.82 L714.31,1312.92 L716.26,1313.03 L718.22,1313.13 L720.18,1313.23 L722.15,1313.34 L724.12,1313.44 L726.09,1313.54 L728.06,1313.64 L730.03,1313.74 L732.01,1313.84 L733.99,1313.94 L735.97,1314.04 L737.95,1314.13 L739.94,1314.23 L741.93,1314.33 L743.92,1314.42 L745.91,1314.52 L747.91,1314.62 L749.91,1314.71 L751.91,1314.81 L753.91,1314.90 L755.92,1314.99 L757.93,1315.09 L759.94,1315.18 L761.95,1315.27 L763.97,1315.36 L765.98,1315.46 L768.01,1315.55 L770.03,1315.64 L772.05,1315.73 L774.08,1315.82 L776.11,1315.91 L778.14,1316.00 L780.18,1316.08 L782.22,1316.17 L784.26,1316.26 L786.30,1316.35 L788.34,1316.43 L790.39,1316.52 L792.44,1316.61 L794.49,1316.69 L796.54,1316.78 L798.60,1316.86 L800.66,1316.95 L802.72,1317.03 L804.78,1317.11 L806.85,1317.20 L808.92,1317.28 L810.99,1317.36 L813.06,1317.45 L815.14,1317.53 L817.21,1317.61 L819.30,1317.69 L821.38,1317.77 L823.46,1317.85 L825.55,1317.93 L827.64,1318.01 L829.73,1318.09 L831.83,1318.17 L833.92,1318.25 L836.02,1318.32 L838.12,1318.40 L840.23,1318.48 L842.33,1318.56 L844.44,1318.63 L846.55,1318.71 L848.66,1318.79 L850.78,1318.86 L852.90,1318.94 L855.02,1319.01 L857.14,1319.09 L859.27,1319.16 L861.39,1319.23 L863.52,1319.31 L865.65,1319.38 L867.79,1319.45 L869.92,1319.53 L872.06,1319.60 L874.20,1319.67 L876.35,1319.74 L878.49,1319.81 L880.64,1319.88 L882.79,1319.96 L884.94,1320.03 L887.10,1320.10 L889.26,1320.17 L891.42,1320.24 L893.58,1320.30 L895.74,1320.37 L897.91,1320.44 L900.08,1320.51 L902.25,1320.58 L904.42,1320.65 L906.60,1320.71 L908.78,1320.78 L910.96,1320.85 L913.14,1320.91 L915.32,1320.98 L917.51,1321.05 L919.70,1321.11 L921.89,1321.18 L924.09,1321.24 L926.28,1321.31 L928.48,1321.37 L930.68,1321.44 L932.89,1321.50 L935.09,1321.56 L937.30,1321.63 L939.51,1321.69 L941.72,1321.75 L943.94,1321.82 L946.15,1321.88 L948.37,1321.94 L950.59,1322.00 L952.82,1322.07 L955.04,1322.13 L957.27,1322.19 L959.50,1322.25 L961.73,1322.31 L963.97,1322.37 L966.21,1322.43 L968.44,1322.49 L970.69,1322.55 L972.93,1322.61" stroke="#00ff00" stroke-width="2.2"/>
<circle cx="134.0" cy="802.0" r="2.9" fill="#000"/>
</g>
<g font-family="Liberation Serif" fill="#000">
<text x="106.0" y="1355.90" text-anchor="end" font-size="35">0.0</text>
<text x="106.0" y="1247.18" text-anchor="end" font-size="35">0.2</text>
<text x="106.0" y="1138.46" text-anchor="end" font-size="35">0.4</text>
<text x="106.0" y="1029.74" text-anchor="end" font-size="35">0.6</text>
<text x="106.0" y="921.02" text-anchor="end" font-size="35">0.8</text>
<text x="106.0" y="812.30" text-anchor="end" font-size="35">1.0</text>
<text x="132.45" y="1398.20" text-anchor="middle" font-size="35">0</text>
<text x="272.53" y="1398.20" text-anchor="middle" font-size="35">2</text>
<text x="412.61" y="1398.20" text-anchor="middle" font-size="35">4</text>
<text x="552.69" y="1398.20" text-anchor="middle" font-size="35">6</text>
<text x="692.77" y="1398.20" text-anchor="middle" font-size="35">8</text>
<text x="832.85" y="1398.20" text-anchor="middle" font-size="35">10</text>
<text x="972.93" y="1398.20" text-anchor="middle" font-size="35">12</text>
<text x="552.6" y="1463.70" text-anchor="middle" font-size="42">Time (s)</text>
<text transform="translate(29.9,1068.00) rotate(-90)" text-anchor="middle" font-size="42">C/C<tspan font-size="26" dx="-0.9" dy="14">0</tspan></text>
<text x="56.6" y="753.00" font-size="57">(b)</text>
<circle cx="430.90" cy="829.80" r="2.9" fill="#000"/>
<text x="487.90" y="843.70" font-size="41.5">Rhodamine B</text>
<line x1="384.1" y1="880.90" x2="478.30" y2="880.90" stroke="#0000ff" stroke-width="2.3"/>
<text x="487.90" y="894.80" font-size="41.5">Pseudo-first-order</text>
<line x1="384.1" y1="932.00" x2="478.30" y2="932.00" stroke="#00ff00" stroke-width="2.3"/>
<text x="487.90" y="945.90" font-size="41.5">Pseudo-second-order</text>
<line x1="384.1" y1="983.10" x2="478.30" y2="983.10" stroke="#ff0000" stroke-width="2.3"/>
<text x="487.90" y="997.00" font-size="41.5">Combined pseudo-first-order</text>
</g>
</svg>
</body></html>
